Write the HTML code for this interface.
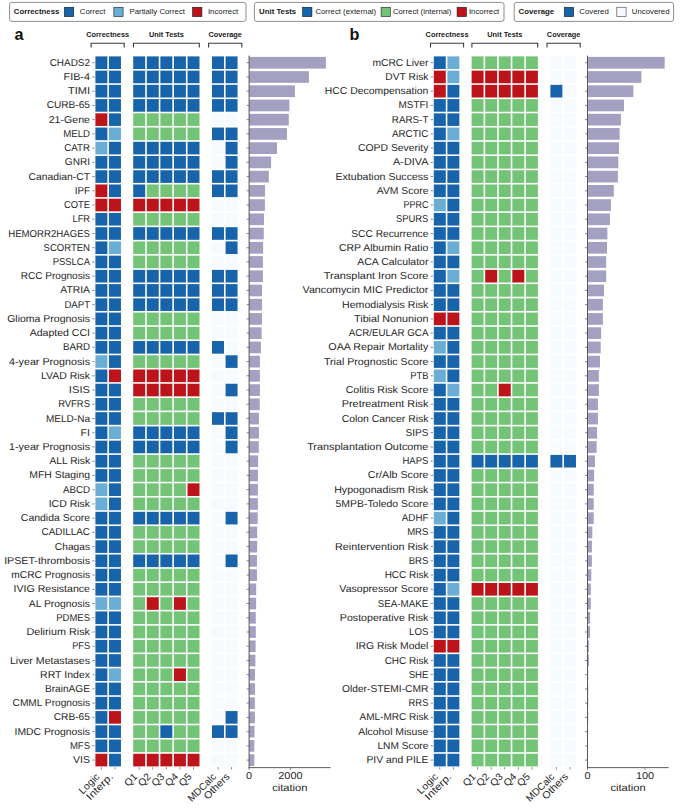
<!DOCTYPE html>
<html><head><meta charset="utf-8"><style>
html,body{margin:0;padding:0;background:#fff;}
body{width:685px;height:812px;overflow:hidden;}
svg{display:block;font-family:"Liberation Sans",sans-serif;}
.t{text-rendering:geometricPrecision;fill:#262626;}
</style></head><body>
<svg width="685" height="812" viewBox="0 0 685 812">
<rect width="685" height="812" fill="#fff"/>
<rect x="9.6" y="2.4" width="236.4" height="19" rx="2.4" fill="#fff" stroke="#7a7a7a" stroke-width="0.85"/>
<text x="13.8" y="13.9" font-size="7.8" font-weight="bold" fill="#1a1a1a">Correctness</text>
<rect x="64.4" y="7.3" width="9.3" height="9.3" fill="#1764ab" stroke="rgba(0,0,0,0.75)" stroke-width="0.7"/>
<text x="79.8" y="13.9" font-size="7.8" font-weight="normal" fill="#1a1a1a">Correct</text>
<rect x="113.8" y="7.3" width="9.3" height="9.3" fill="#6aaed6" stroke="rgba(0,0,0,0.75)" stroke-width="0.7"/>
<text x="129.5" y="13.9" font-size="7.8" font-weight="normal" fill="#1a1a1a">Partially Correct</text>
<rect x="192.6" y="7.3" width="9.3" height="9.3" fill="#bc141a" stroke="rgba(0,0,0,0.75)" stroke-width="0.7"/>
<text x="207.9" y="13.9" font-size="7.8" font-weight="normal" fill="#1a1a1a">Incorrect</text>
<rect x="254.4" y="2.4" width="249.6" height="19" rx="2.4" fill="#fff" stroke="#7a7a7a" stroke-width="0.85"/>
<text x="259.1" y="13.9" font-size="7.8" font-weight="bold" fill="#1a1a1a">Unit Tests</text>
<rect x="302.6" y="7.3" width="9.3" height="9.3" fill="#1764ab" stroke="rgba(0,0,0,0.75)" stroke-width="0.7"/>
<text x="315.4" y="13.9" font-size="7.8" font-weight="normal" fill="#1a1a1a">Correct (external)</text>
<rect x="381.1" y="7.3" width="9.3" height="9.3" fill="#73c476" stroke="rgba(0,0,0,0.75)" stroke-width="0.7"/>
<text x="392.9" y="13.9" font-size="7.8" font-weight="normal" fill="#1a1a1a">Correct (internal)</text>
<rect x="457.1" y="7.3" width="9.3" height="9.3" fill="#bc141a" stroke="rgba(0,0,0,0.75)" stroke-width="0.7"/>
<text x="468.9" y="13.9" font-size="7.8" font-weight="normal" fill="#1a1a1a">Incorrect</text>
<rect x="514.2" y="2.4" width="159.4" height="19" rx="2.4" fill="#fff" stroke="#7a7a7a" stroke-width="0.85"/>
<text x="518.6" y="13.9" font-size="7.8" font-weight="bold" fill="#1a1a1a">Coverage</text>
<rect x="564.3" y="7.3" width="9.3" height="9.3" fill="#1764ab" stroke="rgba(0,0,0,0.75)" stroke-width="0.7"/>
<text x="579.3" y="13.9" font-size="7.8" font-weight="normal" fill="#1a1a1a">Covered</text>
<rect x="616.8" y="7.3" width="9.3" height="9.3" fill="#f6f9fd" stroke="#5a5a5a" stroke-width="0.7"/>
<text x="631.8" y="13.9" font-size="7.8" font-weight="normal" fill="#1a1a1a">Uncovered</text>
<rect x="95.4" y="56.39" width="11.98" height="12.63" fill="#1764ab"/>
<rect x="108.98" y="56.39" width="11.98" height="12.63" fill="#1764ab"/>
<rect x="133.2" y="56.39" width="11.98" height="12.63" fill="#1764ab"/>
<rect x="146.78" y="56.39" width="11.98" height="12.63" fill="#1764ab"/>
<rect x="160.36" y="56.39" width="11.98" height="12.63" fill="#1764ab"/>
<rect x="173.94" y="56.39" width="11.98" height="12.63" fill="#1764ab"/>
<rect x="187.52" y="56.39" width="11.98" height="12.63" fill="#1764ab"/>
<rect x="212" y="56.39" width="11.98" height="12.63" fill="#1764ab"/>
<rect x="225.58" y="56.39" width="11.98" height="12.63" fill="#1764ab"/>
<text x="90" y="65.76" text-anchor="end" font-size="10" class="t" textLength="40.34" lengthAdjust="spacingAndGlyphs">CHADS2</text>
<line x1="92.3" y1="62.71" x2="94.6" y2="62.71" stroke="#6a6a6a" stroke-width="0.8"/>
<rect x="249.1" y="56.91" width="76.8" height="11.7" fill="#a3a0c2"/>
<line x1="246.6" y1="62.71" x2="249.1" y2="62.71" stroke="#6a6a6a" stroke-width="0.8"/>
<rect x="95.4" y="70.63" width="11.98" height="12.63" fill="#1764ab"/>
<rect x="108.98" y="70.63" width="11.98" height="12.63" fill="#1764ab"/>
<rect x="133.2" y="70.63" width="11.98" height="12.63" fill="#1764ab"/>
<rect x="146.78" y="70.63" width="11.98" height="12.63" fill="#1764ab"/>
<rect x="160.36" y="70.63" width="11.98" height="12.63" fill="#1764ab"/>
<rect x="173.94" y="70.63" width="11.98" height="12.63" fill="#1764ab"/>
<rect x="187.52" y="70.63" width="11.98" height="12.63" fill="#1764ab"/>
<rect x="212" y="70.63" width="11.98" height="12.63" fill="#1764ab"/>
<rect x="225.58" y="70.63" width="11.98" height="12.63" fill="#1764ab"/>
<text x="90" y="79.99" text-anchor="end" font-size="10" class="t" textLength="26.47" lengthAdjust="spacingAndGlyphs">FIB-4</text>
<line x1="92.3" y1="76.94" x2="94.6" y2="76.94" stroke="#6a6a6a" stroke-width="0.8"/>
<rect x="249.1" y="71.14" width="59.8" height="11.7" fill="#a3a0c2"/>
<line x1="246.6" y1="76.94" x2="249.1" y2="76.94" stroke="#6a6a6a" stroke-width="0.8"/>
<rect x="95.4" y="84.86" width="11.98" height="12.63" fill="#1764ab"/>
<rect x="108.98" y="84.86" width="11.98" height="12.63" fill="#1764ab"/>
<rect x="133.2" y="84.86" width="11.98" height="12.63" fill="#1764ab"/>
<rect x="146.78" y="84.86" width="11.98" height="12.63" fill="#1764ab"/>
<rect x="160.36" y="84.86" width="11.98" height="12.63" fill="#1764ab"/>
<rect x="173.94" y="84.86" width="11.98" height="12.63" fill="#1764ab"/>
<rect x="187.52" y="84.86" width="11.98" height="12.63" fill="#1764ab"/>
<rect x="212" y="84.86" width="11.98" height="12.63" fill="#1764ab"/>
<rect x="225.58" y="84.86" width="11.98" height="12.63" fill="#1764ab"/>
<text x="90" y="94.22" text-anchor="end" font-size="10" class="t" textLength="21.97" lengthAdjust="spacingAndGlyphs">TIMI</text>
<line x1="92.3" y1="91.17" x2="94.6" y2="91.17" stroke="#6a6a6a" stroke-width="0.8"/>
<rect x="249.1" y="85.37" width="45.8" height="11.7" fill="#a3a0c2"/>
<line x1="246.6" y1="91.17" x2="249.1" y2="91.17" stroke="#6a6a6a" stroke-width="0.8"/>
<rect x="95.4" y="99.09" width="11.98" height="12.63" fill="#1764ab"/>
<rect x="108.98" y="99.09" width="11.98" height="12.63" fill="#1764ab"/>
<rect x="133.2" y="99.09" width="11.98" height="12.63" fill="#1764ab"/>
<rect x="146.78" y="99.09" width="11.98" height="12.63" fill="#1764ab"/>
<rect x="160.36" y="99.09" width="11.98" height="12.63" fill="#1764ab"/>
<rect x="173.94" y="99.09" width="11.98" height="12.63" fill="#1764ab"/>
<rect x="187.52" y="99.09" width="11.98" height="12.63" fill="#1764ab"/>
<rect x="212" y="99.09" width="11.98" height="12.63" fill="#1764ab"/>
<rect x="225.58" y="99.09" width="11.98" height="12.63" fill="#1764ab"/>
<text x="90" y="108.46" text-anchor="end" font-size="10" class="t" textLength="43.32" lengthAdjust="spacingAndGlyphs">CURB-65</text>
<line x1="92.3" y1="105.41" x2="94.6" y2="105.41" stroke="#6a6a6a" stroke-width="0.8"/>
<rect x="249.1" y="99.61" width="40.3" height="11.7" fill="#a3a0c2"/>
<line x1="246.6" y1="105.41" x2="249.1" y2="105.41" stroke="#6a6a6a" stroke-width="0.8"/>
<rect x="95.4" y="113.32" width="11.98" height="12.63" fill="#bc141a"/>
<rect x="108.98" y="113.32" width="11.98" height="12.63" fill="#1764ab"/>
<rect x="133.2" y="113.32" width="11.98" height="12.63" fill="#73c476"/>
<rect x="146.78" y="113.32" width="11.98" height="12.63" fill="#73c476"/>
<rect x="160.36" y="113.32" width="11.98" height="12.63" fill="#73c476"/>
<rect x="173.94" y="113.32" width="11.98" height="12.63" fill="#73c476"/>
<rect x="187.52" y="113.32" width="11.98" height="12.63" fill="#73c476"/>
<rect x="212" y="113.32" width="11.98" height="12.63" fill="#f7fbff"/>
<rect x="225.58" y="113.32" width="11.98" height="12.63" fill="#f7fbff"/>
<text x="90" y="122.69" text-anchor="end" font-size="10" class="t" textLength="41.31" lengthAdjust="spacingAndGlyphs">21-Gene</text>
<line x1="92.3" y1="119.64" x2="94.6" y2="119.64" stroke="#6a6a6a" stroke-width="0.8"/>
<rect x="249.1" y="113.84" width="39.7" height="11.7" fill="#a3a0c2"/>
<line x1="246.6" y1="119.64" x2="249.1" y2="119.64" stroke="#6a6a6a" stroke-width="0.8"/>
<rect x="95.4" y="127.55" width="11.98" height="12.63" fill="#1764ab"/>
<rect x="108.98" y="127.55" width="11.98" height="12.63" fill="#6aaed6"/>
<rect x="133.2" y="127.55" width="11.98" height="12.63" fill="#73c476"/>
<rect x="146.78" y="127.55" width="11.98" height="12.63" fill="#73c476"/>
<rect x="160.36" y="127.55" width="11.98" height="12.63" fill="#73c476"/>
<rect x="173.94" y="127.55" width="11.98" height="12.63" fill="#73c476"/>
<rect x="187.52" y="127.55" width="11.98" height="12.63" fill="#73c476"/>
<rect x="212" y="127.55" width="11.98" height="12.63" fill="#1764ab"/>
<rect x="225.58" y="127.55" width="11.98" height="12.63" fill="#1764ab"/>
<text x="90" y="136.92" text-anchor="end" font-size="10" class="t" textLength="26.77" lengthAdjust="spacingAndGlyphs">MELD</text>
<line x1="92.3" y1="133.87" x2="94.6" y2="133.87" stroke="#6a6a6a" stroke-width="0.8"/>
<rect x="249.1" y="128.07" width="37.9" height="11.7" fill="#a3a0c2"/>
<line x1="246.6" y1="133.87" x2="249.1" y2="133.87" stroke="#6a6a6a" stroke-width="0.8"/>
<rect x="95.4" y="141.79" width="11.98" height="12.63" fill="#6aaed6"/>
<rect x="108.98" y="141.79" width="11.98" height="12.63" fill="#1764ab"/>
<rect x="133.2" y="141.79" width="11.98" height="12.63" fill="#1764ab"/>
<rect x="146.78" y="141.79" width="11.98" height="12.63" fill="#1764ab"/>
<rect x="160.36" y="141.79" width="11.98" height="12.63" fill="#1764ab"/>
<rect x="173.94" y="141.79" width="11.98" height="12.63" fill="#1764ab"/>
<rect x="187.52" y="141.79" width="11.98" height="12.63" fill="#1764ab"/>
<rect x="212" y="141.79" width="11.98" height="12.63" fill="#f7fbff"/>
<rect x="225.58" y="141.79" width="11.98" height="12.63" fill="#1764ab"/>
<text x="90" y="151.15" text-anchor="end" font-size="10" class="t" textLength="25.72" lengthAdjust="spacingAndGlyphs">CATR</text>
<line x1="92.3" y1="148.1" x2="94.6" y2="148.1" stroke="#6a6a6a" stroke-width="0.8"/>
<rect x="249.1" y="142.3" width="27.9" height="11.7" fill="#a3a0c2"/>
<line x1="246.6" y1="148.1" x2="249.1" y2="148.1" stroke="#6a6a6a" stroke-width="0.8"/>
<rect x="95.4" y="156.02" width="11.98" height="12.63" fill="#1764ab"/>
<rect x="108.98" y="156.02" width="11.98" height="12.63" fill="#1764ab"/>
<rect x="133.2" y="156.02" width="11.98" height="12.63" fill="#1764ab"/>
<rect x="146.78" y="156.02" width="11.98" height="12.63" fill="#1764ab"/>
<rect x="160.36" y="156.02" width="11.98" height="12.63" fill="#1764ab"/>
<rect x="173.94" y="156.02" width="11.98" height="12.63" fill="#1764ab"/>
<rect x="187.52" y="156.02" width="11.98" height="12.63" fill="#1764ab"/>
<rect x="212" y="156.02" width="11.98" height="12.63" fill="#f7fbff"/>
<rect x="225.58" y="156.02" width="11.98" height="12.63" fill="#1764ab"/>
<text x="90" y="165.38" text-anchor="end" font-size="10" class="t" textLength="25.2" lengthAdjust="spacingAndGlyphs">GNRI</text>
<line x1="92.3" y1="162.33" x2="94.6" y2="162.33" stroke="#6a6a6a" stroke-width="0.8"/>
<rect x="249.1" y="156.53" width="22" height="11.7" fill="#a3a0c2"/>
<line x1="246.6" y1="162.33" x2="249.1" y2="162.33" stroke="#6a6a6a" stroke-width="0.8"/>
<rect x="95.4" y="170.25" width="11.98" height="12.63" fill="#1764ab"/>
<rect x="108.98" y="170.25" width="11.98" height="12.63" fill="#1764ab"/>
<rect x="133.2" y="170.25" width="11.98" height="12.63" fill="#1764ab"/>
<rect x="146.78" y="170.25" width="11.98" height="12.63" fill="#1764ab"/>
<rect x="160.36" y="170.25" width="11.98" height="12.63" fill="#1764ab"/>
<rect x="173.94" y="170.25" width="11.98" height="12.63" fill="#1764ab"/>
<rect x="187.52" y="170.25" width="11.98" height="12.63" fill="#1764ab"/>
<rect x="212" y="170.25" width="11.98" height="12.63" fill="#1764ab"/>
<rect x="225.58" y="170.25" width="11.98" height="12.63" fill="#1764ab"/>
<text x="90" y="179.62" text-anchor="end" font-size="10" class="t" textLength="61.43" lengthAdjust="spacingAndGlyphs">Canadian-CT</text>
<line x1="92.3" y1="176.57" x2="94.6" y2="176.57" stroke="#6a6a6a" stroke-width="0.8"/>
<rect x="249.1" y="170.77" width="19.7" height="11.7" fill="#a3a0c2"/>
<line x1="246.6" y1="176.57" x2="249.1" y2="176.57" stroke="#6a6a6a" stroke-width="0.8"/>
<rect x="95.4" y="184.48" width="11.98" height="12.63" fill="#bc141a"/>
<rect x="108.98" y="184.48" width="11.98" height="12.63" fill="#1764ab"/>
<rect x="133.2" y="184.48" width="11.98" height="12.63" fill="#1764ab"/>
<rect x="146.78" y="184.48" width="11.98" height="12.63" fill="#73c476"/>
<rect x="160.36" y="184.48" width="11.98" height="12.63" fill="#73c476"/>
<rect x="173.94" y="184.48" width="11.98" height="12.63" fill="#73c476"/>
<rect x="187.52" y="184.48" width="11.98" height="12.63" fill="#73c476"/>
<rect x="212" y="184.48" width="11.98" height="12.63" fill="#1764ab"/>
<rect x="225.58" y="184.48" width="11.98" height="12.63" fill="#1764ab"/>
<text x="90" y="193.85" text-anchor="end" font-size="10" class="t" textLength="15.27" lengthAdjust="spacingAndGlyphs">IPF</text>
<line x1="92.3" y1="190.8" x2="94.6" y2="190.8" stroke="#6a6a6a" stroke-width="0.8"/>
<rect x="249.1" y="185" width="15.9" height="11.7" fill="#a3a0c2"/>
<line x1="246.6" y1="190.8" x2="249.1" y2="190.8" stroke="#6a6a6a" stroke-width="0.8"/>
<rect x="95.4" y="198.71" width="11.98" height="12.63" fill="#bc141a"/>
<rect x="108.98" y="198.71" width="11.98" height="12.63" fill="#bc141a"/>
<rect x="133.2" y="198.71" width="11.98" height="12.63" fill="#bc141a"/>
<rect x="146.78" y="198.71" width="11.98" height="12.63" fill="#bc141a"/>
<rect x="160.36" y="198.71" width="11.98" height="12.63" fill="#bc141a"/>
<rect x="173.94" y="198.71" width="11.98" height="12.63" fill="#bc141a"/>
<rect x="187.52" y="198.71" width="11.98" height="12.63" fill="#bc141a"/>
<rect x="212" y="198.71" width="11.98" height="12.63" fill="#f7fbff"/>
<rect x="225.58" y="198.71" width="11.98" height="12.63" fill="#f7fbff"/>
<text x="90" y="208.08" text-anchor="end" font-size="10" class="t" textLength="26.1" lengthAdjust="spacingAndGlyphs">COTE</text>
<line x1="92.3" y1="205.03" x2="94.6" y2="205.03" stroke="#6a6a6a" stroke-width="0.8"/>
<rect x="249.1" y="199.23" width="15.8" height="11.7" fill="#a3a0c2"/>
<line x1="246.6" y1="205.03" x2="249.1" y2="205.03" stroke="#6a6a6a" stroke-width="0.8"/>
<rect x="95.4" y="212.95" width="11.98" height="12.63" fill="#1764ab"/>
<rect x="108.98" y="212.95" width="11.98" height="12.63" fill="#1764ab"/>
<rect x="133.2" y="212.95" width="11.98" height="12.63" fill="#73c476"/>
<rect x="146.78" y="212.95" width="11.98" height="12.63" fill="#73c476"/>
<rect x="160.36" y="212.95" width="11.98" height="12.63" fill="#73c476"/>
<rect x="173.94" y="212.95" width="11.98" height="12.63" fill="#73c476"/>
<rect x="187.52" y="212.95" width="11.98" height="12.63" fill="#73c476"/>
<rect x="212" y="212.95" width="11.98" height="12.63" fill="#f7fbff"/>
<rect x="225.58" y="212.95" width="11.98" height="12.63" fill="#f7fbff"/>
<text x="90" y="222.31" text-anchor="end" font-size="10" class="t" textLength="17.45" lengthAdjust="spacingAndGlyphs">LFR</text>
<line x1="92.3" y1="219.26" x2="94.6" y2="219.26" stroke="#6a6a6a" stroke-width="0.8"/>
<rect x="249.1" y="213.46" width="14.9" height="11.7" fill="#a3a0c2"/>
<line x1="246.6" y1="219.26" x2="249.1" y2="219.26" stroke="#6a6a6a" stroke-width="0.8"/>
<rect x="95.4" y="227.18" width="11.98" height="12.63" fill="#1764ab"/>
<rect x="108.98" y="227.18" width="11.98" height="12.63" fill="#1764ab"/>
<rect x="133.2" y="227.18" width="11.98" height="12.63" fill="#1764ab"/>
<rect x="146.78" y="227.18" width="11.98" height="12.63" fill="#1764ab"/>
<rect x="160.36" y="227.18" width="11.98" height="12.63" fill="#1764ab"/>
<rect x="173.94" y="227.18" width="11.98" height="12.63" fill="#1764ab"/>
<rect x="187.52" y="227.18" width="11.98" height="12.63" fill="#1764ab"/>
<rect x="212" y="227.18" width="11.98" height="12.63" fill="#1764ab"/>
<rect x="225.58" y="227.18" width="11.98" height="12.63" fill="#1764ab"/>
<text x="90" y="236.54" text-anchor="end" font-size="10" class="t" textLength="81.79" lengthAdjust="spacingAndGlyphs">HEMORR2HAGES</text>
<line x1="92.3" y1="233.49" x2="94.6" y2="233.49" stroke="#6a6a6a" stroke-width="0.8"/>
<rect x="249.1" y="227.69" width="14.7" height="11.7" fill="#a3a0c2"/>
<line x1="246.6" y1="233.49" x2="249.1" y2="233.49" stroke="#6a6a6a" stroke-width="0.8"/>
<rect x="95.4" y="241.41" width="11.98" height="12.63" fill="#1764ab"/>
<rect x="108.98" y="241.41" width="11.98" height="12.63" fill="#6aaed6"/>
<rect x="133.2" y="241.41" width="11.98" height="12.63" fill="#73c476"/>
<rect x="146.78" y="241.41" width="11.98" height="12.63" fill="#73c476"/>
<rect x="160.36" y="241.41" width="11.98" height="12.63" fill="#73c476"/>
<rect x="173.94" y="241.41" width="11.98" height="12.63" fill="#73c476"/>
<rect x="187.52" y="241.41" width="11.98" height="12.63" fill="#73c476"/>
<rect x="212" y="241.41" width="11.98" height="12.63" fill="#f7fbff"/>
<rect x="225.58" y="241.41" width="11.98" height="12.63" fill="#1764ab"/>
<text x="90" y="250.78" text-anchor="end" font-size="10" class="t" textLength="46.42" lengthAdjust="spacingAndGlyphs">SCORTEN</text>
<line x1="92.3" y1="247.73" x2="94.6" y2="247.73" stroke="#6a6a6a" stroke-width="0.8"/>
<rect x="249.1" y="241.93" width="14" height="11.7" fill="#a3a0c2"/>
<line x1="246.6" y1="247.73" x2="249.1" y2="247.73" stroke="#6a6a6a" stroke-width="0.8"/>
<rect x="95.4" y="255.64" width="11.98" height="12.63" fill="#1764ab"/>
<rect x="108.98" y="255.64" width="11.98" height="12.63" fill="#1764ab"/>
<rect x="133.2" y="255.64" width="11.98" height="12.63" fill="#73c476"/>
<rect x="146.78" y="255.64" width="11.98" height="12.63" fill="#73c476"/>
<rect x="160.36" y="255.64" width="11.98" height="12.63" fill="#73c476"/>
<rect x="173.94" y="255.64" width="11.98" height="12.63" fill="#73c476"/>
<rect x="187.52" y="255.64" width="11.98" height="12.63" fill="#73c476"/>
<rect x="212" y="255.64" width="11.98" height="12.63" fill="#f7fbff"/>
<rect x="225.58" y="255.64" width="11.98" height="12.63" fill="#f7fbff"/>
<text x="90" y="265.01" text-anchor="end" font-size="10" class="t" textLength="37.35" lengthAdjust="spacingAndGlyphs">PSSLCA</text>
<line x1="92.3" y1="261.96" x2="94.6" y2="261.96" stroke="#6a6a6a" stroke-width="0.8"/>
<rect x="249.1" y="256.16" width="13.8" height="11.7" fill="#a3a0c2"/>
<line x1="246.6" y1="261.96" x2="249.1" y2="261.96" stroke="#6a6a6a" stroke-width="0.8"/>
<rect x="95.4" y="269.87" width="11.98" height="12.63" fill="#1764ab"/>
<rect x="108.98" y="269.87" width="11.98" height="12.63" fill="#1764ab"/>
<rect x="133.2" y="269.87" width="11.98" height="12.63" fill="#1764ab"/>
<rect x="146.78" y="269.87" width="11.98" height="12.63" fill="#1764ab"/>
<rect x="160.36" y="269.87" width="11.98" height="12.63" fill="#1764ab"/>
<rect x="173.94" y="269.87" width="11.98" height="12.63" fill="#1764ab"/>
<rect x="187.52" y="269.87" width="11.98" height="12.63" fill="#1764ab"/>
<rect x="212" y="269.87" width="11.98" height="12.63" fill="#1764ab"/>
<rect x="225.58" y="269.87" width="11.98" height="12.63" fill="#1764ab"/>
<text x="90" y="279.24" text-anchor="end" font-size="10" class="t" textLength="69.32" lengthAdjust="spacingAndGlyphs">RCC Prognosis</text>
<line x1="92.3" y1="276.19" x2="94.6" y2="276.19" stroke="#6a6a6a" stroke-width="0.8"/>
<rect x="249.1" y="270.39" width="13.8" height="11.7" fill="#a3a0c2"/>
<line x1="246.6" y1="276.19" x2="249.1" y2="276.19" stroke="#6a6a6a" stroke-width="0.8"/>
<rect x="95.4" y="284.11" width="11.98" height="12.63" fill="#1764ab"/>
<rect x="108.98" y="284.11" width="11.98" height="12.63" fill="#1764ab"/>
<rect x="133.2" y="284.11" width="11.98" height="12.63" fill="#1764ab"/>
<rect x="146.78" y="284.11" width="11.98" height="12.63" fill="#1764ab"/>
<rect x="160.36" y="284.11" width="11.98" height="12.63" fill="#1764ab"/>
<rect x="173.94" y="284.11" width="11.98" height="12.63" fill="#1764ab"/>
<rect x="187.52" y="284.11" width="11.98" height="12.63" fill="#1764ab"/>
<rect x="212" y="284.11" width="11.98" height="12.63" fill="#1764ab"/>
<rect x="225.58" y="284.11" width="11.98" height="12.63" fill="#1764ab"/>
<text x="90" y="293.47" text-anchor="end" font-size="10" class="t" textLength="29.61" lengthAdjust="spacingAndGlyphs">ATRIA</text>
<line x1="92.3" y1="290.42" x2="94.6" y2="290.42" stroke="#6a6a6a" stroke-width="0.8"/>
<rect x="249.1" y="284.62" width="12.9" height="11.7" fill="#a3a0c2"/>
<line x1="246.6" y1="290.42" x2="249.1" y2="290.42" stroke="#6a6a6a" stroke-width="0.8"/>
<rect x="95.4" y="298.34" width="11.98" height="12.63" fill="#1764ab"/>
<rect x="108.98" y="298.34" width="11.98" height="12.63" fill="#1764ab"/>
<rect x="133.2" y="298.34" width="11.98" height="12.63" fill="#1764ab"/>
<rect x="146.78" y="298.34" width="11.98" height="12.63" fill="#1764ab"/>
<rect x="160.36" y="298.34" width="11.98" height="12.63" fill="#1764ab"/>
<rect x="173.94" y="298.34" width="11.98" height="12.63" fill="#1764ab"/>
<rect x="187.52" y="298.34" width="11.98" height="12.63" fill="#1764ab"/>
<rect x="212" y="298.34" width="11.98" height="12.63" fill="#1764ab"/>
<rect x="225.58" y="298.34" width="11.98" height="12.63" fill="#1764ab"/>
<text x="90" y="307.7" text-anchor="end" font-size="10" class="t" textLength="25.54" lengthAdjust="spacingAndGlyphs">DAPT</text>
<line x1="92.3" y1="304.65" x2="94.6" y2="304.65" stroke="#6a6a6a" stroke-width="0.8"/>
<rect x="249.1" y="298.85" width="12.9" height="11.7" fill="#a3a0c2"/>
<line x1="246.6" y1="304.65" x2="249.1" y2="304.65" stroke="#6a6a6a" stroke-width="0.8"/>
<rect x="95.4" y="312.57" width="11.98" height="12.63" fill="#1764ab"/>
<rect x="108.98" y="312.57" width="11.98" height="12.63" fill="#1764ab"/>
<rect x="133.2" y="312.57" width="11.98" height="12.63" fill="#73c476"/>
<rect x="146.78" y="312.57" width="11.98" height="12.63" fill="#73c476"/>
<rect x="160.36" y="312.57" width="11.98" height="12.63" fill="#73c476"/>
<rect x="173.94" y="312.57" width="11.98" height="12.63" fill="#73c476"/>
<rect x="187.52" y="312.57" width="11.98" height="12.63" fill="#73c476"/>
<rect x="212" y="312.57" width="11.98" height="12.63" fill="#f7fbff"/>
<rect x="225.58" y="312.57" width="11.98" height="12.63" fill="#f7fbff"/>
<text x="90" y="321.94" text-anchor="end" font-size="10" class="t" textLength="82.81" lengthAdjust="spacingAndGlyphs">Glioma Prognosis</text>
<line x1="92.3" y1="318.89" x2="94.6" y2="318.89" stroke="#6a6a6a" stroke-width="0.8"/>
<rect x="249.1" y="313.09" width="12.9" height="11.7" fill="#a3a0c2"/>
<line x1="246.6" y1="318.89" x2="249.1" y2="318.89" stroke="#6a6a6a" stroke-width="0.8"/>
<rect x="95.4" y="326.8" width="11.98" height="12.63" fill="#1764ab"/>
<rect x="108.98" y="326.8" width="11.98" height="12.63" fill="#1764ab"/>
<rect x="133.2" y="326.8" width="11.98" height="12.63" fill="#73c476"/>
<rect x="146.78" y="326.8" width="11.98" height="12.63" fill="#73c476"/>
<rect x="160.36" y="326.8" width="11.98" height="12.63" fill="#73c476"/>
<rect x="173.94" y="326.8" width="11.98" height="12.63" fill="#73c476"/>
<rect x="187.52" y="326.8" width="11.98" height="12.63" fill="#73c476"/>
<rect x="212" y="326.8" width="11.98" height="12.63" fill="#f7fbff"/>
<rect x="225.58" y="326.8" width="11.98" height="12.63" fill="#f7fbff"/>
<text x="90" y="336.17" text-anchor="end" font-size="10" class="t" textLength="60.29" lengthAdjust="spacingAndGlyphs">Adapted CCI</text>
<line x1="92.3" y1="333.12" x2="94.6" y2="333.12" stroke="#6a6a6a" stroke-width="0.8"/>
<rect x="249.1" y="327.32" width="12.5" height="11.7" fill="#a3a0c2"/>
<line x1="246.6" y1="333.12" x2="249.1" y2="333.12" stroke="#6a6a6a" stroke-width="0.8"/>
<rect x="95.4" y="341.03" width="11.98" height="12.63" fill="#1764ab"/>
<rect x="108.98" y="341.03" width="11.98" height="12.63" fill="#1764ab"/>
<rect x="133.2" y="341.03" width="11.98" height="12.63" fill="#1764ab"/>
<rect x="146.78" y="341.03" width="11.98" height="12.63" fill="#1764ab"/>
<rect x="160.36" y="341.03" width="11.98" height="12.63" fill="#1764ab"/>
<rect x="173.94" y="341.03" width="11.98" height="12.63" fill="#1764ab"/>
<rect x="187.52" y="341.03" width="11.98" height="12.63" fill="#1764ab"/>
<rect x="212" y="341.03" width="11.98" height="12.63" fill="#1764ab"/>
<rect x="225.58" y="341.03" width="11.98" height="12.63" fill="#f7fbff"/>
<text x="90" y="350.4" text-anchor="end" font-size="10" class="t" textLength="27.08" lengthAdjust="spacingAndGlyphs">BARD</text>
<line x1="92.3" y1="347.35" x2="94.6" y2="347.35" stroke="#6a6a6a" stroke-width="0.8"/>
<rect x="249.1" y="341.55" width="11.8" height="11.7" fill="#a3a0c2"/>
<line x1="246.6" y1="347.35" x2="249.1" y2="347.35" stroke="#6a6a6a" stroke-width="0.8"/>
<rect x="95.4" y="355.27" width="11.98" height="12.63" fill="#6aaed6"/>
<rect x="108.98" y="355.27" width="11.98" height="12.63" fill="#1764ab"/>
<rect x="133.2" y="355.27" width="11.98" height="12.63" fill="#73c476"/>
<rect x="146.78" y="355.27" width="11.98" height="12.63" fill="#73c476"/>
<rect x="160.36" y="355.27" width="11.98" height="12.63" fill="#73c476"/>
<rect x="173.94" y="355.27" width="11.98" height="12.63" fill="#73c476"/>
<rect x="187.52" y="355.27" width="11.98" height="12.63" fill="#73c476"/>
<rect x="212" y="355.27" width="11.98" height="12.63" fill="#f7fbff"/>
<rect x="225.58" y="355.27" width="11.98" height="12.63" fill="#1764ab"/>
<text x="90" y="364.63" text-anchor="end" font-size="10" class="t" textLength="80.91" lengthAdjust="spacingAndGlyphs">4-year Prognosis</text>
<line x1="92.3" y1="361.58" x2="94.6" y2="361.58" stroke="#6a6a6a" stroke-width="0.8"/>
<rect x="249.1" y="355.78" width="10.8" height="11.7" fill="#a3a0c2"/>
<line x1="246.6" y1="361.58" x2="249.1" y2="361.58" stroke="#6a6a6a" stroke-width="0.8"/>
<rect x="95.4" y="369.5" width="11.98" height="12.63" fill="#1764ab"/>
<rect x="108.98" y="369.5" width="11.98" height="12.63" fill="#bc141a"/>
<rect x="133.2" y="369.5" width="11.98" height="12.63" fill="#bc141a"/>
<rect x="146.78" y="369.5" width="11.98" height="12.63" fill="#bc141a"/>
<rect x="160.36" y="369.5" width="11.98" height="12.63" fill="#bc141a"/>
<rect x="173.94" y="369.5" width="11.98" height="12.63" fill="#bc141a"/>
<rect x="187.52" y="369.5" width="11.98" height="12.63" fill="#bc141a"/>
<rect x="212" y="369.5" width="11.98" height="12.63" fill="#f7fbff"/>
<rect x="225.58" y="369.5" width="11.98" height="12.63" fill="#f7fbff"/>
<text x="90" y="378.86" text-anchor="end" font-size="10" class="t" textLength="48.99" lengthAdjust="spacingAndGlyphs">LVAD Risk</text>
<line x1="92.3" y1="375.81" x2="94.6" y2="375.81" stroke="#6a6a6a" stroke-width="0.8"/>
<rect x="249.1" y="370.01" width="10.8" height="11.7" fill="#a3a0c2"/>
<line x1="246.6" y1="375.81" x2="249.1" y2="375.81" stroke="#6a6a6a" stroke-width="0.8"/>
<rect x="95.4" y="383.73" width="11.98" height="12.63" fill="#1764ab"/>
<rect x="108.98" y="383.73" width="11.98" height="12.63" fill="#1764ab"/>
<rect x="133.2" y="383.73" width="11.98" height="12.63" fill="#bc141a"/>
<rect x="146.78" y="383.73" width="11.98" height="12.63" fill="#bc141a"/>
<rect x="160.36" y="383.73" width="11.98" height="12.63" fill="#bc141a"/>
<rect x="173.94" y="383.73" width="11.98" height="12.63" fill="#bc141a"/>
<rect x="187.52" y="383.73" width="11.98" height="12.63" fill="#bc141a"/>
<rect x="212" y="383.73" width="11.98" height="12.63" fill="#f7fbff"/>
<rect x="225.58" y="383.73" width="11.98" height="12.63" fill="#1764ab"/>
<text x="90" y="393.1" text-anchor="end" font-size="10" class="t" textLength="21.11" lengthAdjust="spacingAndGlyphs">ISIS</text>
<line x1="92.3" y1="390.05" x2="94.6" y2="390.05" stroke="#6a6a6a" stroke-width="0.8"/>
<rect x="249.1" y="384.25" width="10.8" height="11.7" fill="#a3a0c2"/>
<line x1="246.6" y1="390.05" x2="249.1" y2="390.05" stroke="#6a6a6a" stroke-width="0.8"/>
<rect x="95.4" y="397.96" width="11.98" height="12.63" fill="#1764ab"/>
<rect x="108.98" y="397.96" width="11.98" height="12.63" fill="#1764ab"/>
<rect x="133.2" y="397.96" width="11.98" height="12.63" fill="#73c476"/>
<rect x="146.78" y="397.96" width="11.98" height="12.63" fill="#73c476"/>
<rect x="160.36" y="397.96" width="11.98" height="12.63" fill="#73c476"/>
<rect x="173.94" y="397.96" width="11.98" height="12.63" fill="#73c476"/>
<rect x="187.52" y="397.96" width="11.98" height="12.63" fill="#73c476"/>
<rect x="212" y="397.96" width="11.98" height="12.63" fill="#f7fbff"/>
<rect x="225.58" y="397.96" width="11.98" height="12.63" fill="#f7fbff"/>
<text x="90" y="407.33" text-anchor="end" font-size="10" class="t" textLength="31.83" lengthAdjust="spacingAndGlyphs">RVFRS</text>
<line x1="92.3" y1="404.28" x2="94.6" y2="404.28" stroke="#6a6a6a" stroke-width="0.8"/>
<rect x="249.1" y="398.48" width="10.6" height="11.7" fill="#a3a0c2"/>
<line x1="246.6" y1="404.28" x2="249.1" y2="404.28" stroke="#6a6a6a" stroke-width="0.8"/>
<rect x="95.4" y="412.19" width="11.98" height="12.63" fill="#1764ab"/>
<rect x="108.98" y="412.19" width="11.98" height="12.63" fill="#1764ab"/>
<rect x="133.2" y="412.19" width="11.98" height="12.63" fill="#73c476"/>
<rect x="146.78" y="412.19" width="11.98" height="12.63" fill="#73c476"/>
<rect x="160.36" y="412.19" width="11.98" height="12.63" fill="#73c476"/>
<rect x="173.94" y="412.19" width="11.98" height="12.63" fill="#73c476"/>
<rect x="187.52" y="412.19" width="11.98" height="12.63" fill="#73c476"/>
<rect x="212" y="412.19" width="11.98" height="12.63" fill="#1764ab"/>
<rect x="225.58" y="412.19" width="11.98" height="12.63" fill="#1764ab"/>
<text x="90" y="421.56" text-anchor="end" font-size="10" class="t" textLength="43.99" lengthAdjust="spacingAndGlyphs">MELD-Na</text>
<line x1="92.3" y1="418.51" x2="94.6" y2="418.51" stroke="#6a6a6a" stroke-width="0.8"/>
<rect x="249.1" y="412.71" width="9.9" height="11.7" fill="#a3a0c2"/>
<line x1="246.6" y1="418.51" x2="249.1" y2="418.51" stroke="#6a6a6a" stroke-width="0.8"/>
<rect x="95.4" y="426.43" width="11.98" height="12.63" fill="#1764ab"/>
<rect x="108.98" y="426.43" width="11.98" height="12.63" fill="#6aaed6"/>
<rect x="133.2" y="426.43" width="11.98" height="12.63" fill="#1764ab"/>
<rect x="146.78" y="426.43" width="11.98" height="12.63" fill="#1764ab"/>
<rect x="160.36" y="426.43" width="11.98" height="12.63" fill="#1764ab"/>
<rect x="173.94" y="426.43" width="11.98" height="12.63" fill="#1764ab"/>
<rect x="187.52" y="426.43" width="11.98" height="12.63" fill="#1764ab"/>
<rect x="212" y="426.43" width="11.98" height="12.63" fill="#f7fbff"/>
<rect x="225.58" y="426.43" width="11.98" height="12.63" fill="#1764ab"/>
<text x="90" y="435.79" text-anchor="end" font-size="10" class="t" textLength="9.51" lengthAdjust="spacingAndGlyphs">FI</text>
<line x1="92.3" y1="432.74" x2="94.6" y2="432.74" stroke="#6a6a6a" stroke-width="0.8"/>
<rect x="249.1" y="426.94" width="9.9" height="11.7" fill="#a3a0c2"/>
<line x1="246.6" y1="432.74" x2="249.1" y2="432.74" stroke="#6a6a6a" stroke-width="0.8"/>
<rect x="95.4" y="440.66" width="11.98" height="12.63" fill="#1764ab"/>
<rect x="108.98" y="440.66" width="11.98" height="12.63" fill="#1764ab"/>
<rect x="133.2" y="440.66" width="11.98" height="12.63" fill="#1764ab"/>
<rect x="146.78" y="440.66" width="11.98" height="12.63" fill="#1764ab"/>
<rect x="160.36" y="440.66" width="11.98" height="12.63" fill="#1764ab"/>
<rect x="173.94" y="440.66" width="11.98" height="12.63" fill="#1764ab"/>
<rect x="187.52" y="440.66" width="11.98" height="12.63" fill="#1764ab"/>
<rect x="212" y="440.66" width="11.98" height="12.63" fill="#f7fbff"/>
<rect x="225.58" y="440.66" width="11.98" height="12.63" fill="#1764ab"/>
<text x="90" y="450.02" text-anchor="end" font-size="10" class="t" textLength="80.91" lengthAdjust="spacingAndGlyphs">1-year Prognosis</text>
<line x1="92.3" y1="446.97" x2="94.6" y2="446.97" stroke="#6a6a6a" stroke-width="0.8"/>
<rect x="249.1" y="441.17" width="9.7" height="11.7" fill="#a3a0c2"/>
<line x1="246.6" y1="446.97" x2="249.1" y2="446.97" stroke="#6a6a6a" stroke-width="0.8"/>
<rect x="95.4" y="454.89" width="11.98" height="12.63" fill="#1764ab"/>
<rect x="108.98" y="454.89" width="11.98" height="12.63" fill="#1764ab"/>
<rect x="133.2" y="454.89" width="11.98" height="12.63" fill="#73c476"/>
<rect x="146.78" y="454.89" width="11.98" height="12.63" fill="#73c476"/>
<rect x="160.36" y="454.89" width="11.98" height="12.63" fill="#73c476"/>
<rect x="173.94" y="454.89" width="11.98" height="12.63" fill="#73c476"/>
<rect x="187.52" y="454.89" width="11.98" height="12.63" fill="#73c476"/>
<rect x="212" y="454.89" width="11.98" height="12.63" fill="#f7fbff"/>
<rect x="225.58" y="454.89" width="11.98" height="12.63" fill="#f7fbff"/>
<text x="90" y="464.26" text-anchor="end" font-size="10" class="t" textLength="40.41" lengthAdjust="spacingAndGlyphs">ALL Risk</text>
<line x1="92.3" y1="461.21" x2="94.6" y2="461.21" stroke="#6a6a6a" stroke-width="0.8"/>
<rect x="249.1" y="455.41" width="9" height="11.7" fill="#a3a0c2"/>
<line x1="246.6" y1="461.21" x2="249.1" y2="461.21" stroke="#6a6a6a" stroke-width="0.8"/>
<rect x="95.4" y="469.12" width="11.98" height="12.63" fill="#1764ab"/>
<rect x="108.98" y="469.12" width="11.98" height="12.63" fill="#1764ab"/>
<rect x="133.2" y="469.12" width="11.98" height="12.63" fill="#73c476"/>
<rect x="146.78" y="469.12" width="11.98" height="12.63" fill="#73c476"/>
<rect x="160.36" y="469.12" width="11.98" height="12.63" fill="#73c476"/>
<rect x="173.94" y="469.12" width="11.98" height="12.63" fill="#73c476"/>
<rect x="187.52" y="469.12" width="11.98" height="12.63" fill="#73c476"/>
<rect x="212" y="469.12" width="11.98" height="12.63" fill="#f7fbff"/>
<rect x="225.58" y="469.12" width="11.98" height="12.63" fill="#f7fbff"/>
<text x="90" y="478.49" text-anchor="end" font-size="10" class="t" textLength="60.67" lengthAdjust="spacingAndGlyphs">MFH Staging</text>
<line x1="92.3" y1="475.44" x2="94.6" y2="475.44" stroke="#6a6a6a" stroke-width="0.8"/>
<rect x="249.1" y="469.64" width="8.8" height="11.7" fill="#a3a0c2"/>
<line x1="246.6" y1="475.44" x2="249.1" y2="475.44" stroke="#6a6a6a" stroke-width="0.8"/>
<rect x="95.4" y="483.35" width="11.98" height="12.63" fill="#6aaed6"/>
<rect x="108.98" y="483.35" width="11.98" height="12.63" fill="#1764ab"/>
<rect x="133.2" y="483.35" width="11.98" height="12.63" fill="#73c476"/>
<rect x="146.78" y="483.35" width="11.98" height="12.63" fill="#73c476"/>
<rect x="160.36" y="483.35" width="11.98" height="12.63" fill="#73c476"/>
<rect x="173.94" y="483.35" width="11.98" height="12.63" fill="#73c476"/>
<rect x="187.52" y="483.35" width="11.98" height="12.63" fill="#bc141a"/>
<rect x="212" y="483.35" width="11.98" height="12.63" fill="#f7fbff"/>
<rect x="225.58" y="483.35" width="11.98" height="12.63" fill="#f7fbff"/>
<text x="90" y="492.72" text-anchor="end" font-size="10" class="t" textLength="27.12" lengthAdjust="spacingAndGlyphs">ABCD</text>
<line x1="92.3" y1="489.67" x2="94.6" y2="489.67" stroke="#6a6a6a" stroke-width="0.8"/>
<rect x="249.1" y="483.87" width="8.8" height="11.7" fill="#a3a0c2"/>
<line x1="246.6" y1="489.67" x2="249.1" y2="489.67" stroke="#6a6a6a" stroke-width="0.8"/>
<rect x="95.4" y="497.59" width="11.98" height="12.63" fill="#6aaed6"/>
<rect x="108.98" y="497.59" width="11.98" height="12.63" fill="#1764ab"/>
<rect x="133.2" y="497.59" width="11.98" height="12.63" fill="#73c476"/>
<rect x="146.78" y="497.59" width="11.98" height="12.63" fill="#73c476"/>
<rect x="160.36" y="497.59" width="11.98" height="12.63" fill="#73c476"/>
<rect x="173.94" y="497.59" width="11.98" height="12.63" fill="#73c476"/>
<rect x="187.52" y="497.59" width="11.98" height="12.63" fill="#73c476"/>
<rect x="212" y="497.59" width="11.98" height="12.63" fill="#f7fbff"/>
<rect x="225.58" y="497.59" width="11.98" height="12.63" fill="#f7fbff"/>
<text x="90" y="506.95" text-anchor="end" font-size="10" class="t" textLength="41.29" lengthAdjust="spacingAndGlyphs">ICD Risk</text>
<line x1="92.3" y1="503.9" x2="94.6" y2="503.9" stroke="#6a6a6a" stroke-width="0.8"/>
<rect x="249.1" y="498.1" width="8.8" height="11.7" fill="#a3a0c2"/>
<line x1="246.6" y1="503.9" x2="249.1" y2="503.9" stroke="#6a6a6a" stroke-width="0.8"/>
<rect x="95.4" y="511.82" width="11.98" height="12.63" fill="#1764ab"/>
<rect x="108.98" y="511.82" width="11.98" height="12.63" fill="#1764ab"/>
<rect x="133.2" y="511.82" width="11.98" height="12.63" fill="#1764ab"/>
<rect x="146.78" y="511.82" width="11.98" height="12.63" fill="#1764ab"/>
<rect x="160.36" y="511.82" width="11.98" height="12.63" fill="#1764ab"/>
<rect x="173.94" y="511.82" width="11.98" height="12.63" fill="#1764ab"/>
<rect x="187.52" y="511.82" width="11.98" height="12.63" fill="#1764ab"/>
<rect x="212" y="511.82" width="11.98" height="12.63" fill="#f7fbff"/>
<rect x="225.58" y="511.82" width="11.98" height="12.63" fill="#1764ab"/>
<text x="90" y="521.18" text-anchor="end" font-size="10" class="t" textLength="69.14" lengthAdjust="spacingAndGlyphs">Candida Score</text>
<line x1="92.3" y1="518.13" x2="94.6" y2="518.13" stroke="#6a6a6a" stroke-width="0.8"/>
<rect x="249.1" y="512.33" width="8.6" height="11.7" fill="#a3a0c2"/>
<line x1="246.6" y1="518.13" x2="249.1" y2="518.13" stroke="#6a6a6a" stroke-width="0.8"/>
<rect x="95.4" y="526.05" width="11.98" height="12.63" fill="#1764ab"/>
<rect x="108.98" y="526.05" width="11.98" height="12.63" fill="#1764ab"/>
<rect x="133.2" y="526.05" width="11.98" height="12.63" fill="#73c476"/>
<rect x="146.78" y="526.05" width="11.98" height="12.63" fill="#73c476"/>
<rect x="160.36" y="526.05" width="11.98" height="12.63" fill="#73c476"/>
<rect x="173.94" y="526.05" width="11.98" height="12.63" fill="#73c476"/>
<rect x="187.52" y="526.05" width="11.98" height="12.63" fill="#73c476"/>
<rect x="212" y="526.05" width="11.98" height="12.63" fill="#f7fbff"/>
<rect x="225.58" y="526.05" width="11.98" height="12.63" fill="#f7fbff"/>
<text x="90" y="535.42" text-anchor="end" font-size="10" class="t" textLength="48.43" lengthAdjust="spacingAndGlyphs">CADILLAC</text>
<line x1="92.3" y1="532.37" x2="94.6" y2="532.37" stroke="#6a6a6a" stroke-width="0.8"/>
<rect x="249.1" y="526.57" width="8.1" height="11.7" fill="#a3a0c2"/>
<line x1="246.6" y1="532.37" x2="249.1" y2="532.37" stroke="#6a6a6a" stroke-width="0.8"/>
<rect x="95.4" y="540.28" width="11.98" height="12.63" fill="#1764ab"/>
<rect x="108.98" y="540.28" width="11.98" height="12.63" fill="#1764ab"/>
<rect x="133.2" y="540.28" width="11.98" height="12.63" fill="#73c476"/>
<rect x="146.78" y="540.28" width="11.98" height="12.63" fill="#73c476"/>
<rect x="160.36" y="540.28" width="11.98" height="12.63" fill="#73c476"/>
<rect x="173.94" y="540.28" width="11.98" height="12.63" fill="#73c476"/>
<rect x="187.52" y="540.28" width="11.98" height="12.63" fill="#73c476"/>
<rect x="212" y="540.28" width="11.98" height="12.63" fill="#f7fbff"/>
<rect x="225.58" y="540.28" width="11.98" height="12.63" fill="#f7fbff"/>
<text x="90" y="549.65" text-anchor="end" font-size="10" class="t" textLength="35.12" lengthAdjust="spacingAndGlyphs">Chagas</text>
<line x1="92.3" y1="546.6" x2="94.6" y2="546.6" stroke="#6a6a6a" stroke-width="0.8"/>
<rect x="249.1" y="540.8" width="8.1" height="11.7" fill="#a3a0c2"/>
<line x1="246.6" y1="546.6" x2="249.1" y2="546.6" stroke="#6a6a6a" stroke-width="0.8"/>
<rect x="95.4" y="554.51" width="11.98" height="12.63" fill="#1764ab"/>
<rect x="108.98" y="554.51" width="11.98" height="12.63" fill="#1764ab"/>
<rect x="133.2" y="554.51" width="11.98" height="12.63" fill="#1764ab"/>
<rect x="146.78" y="554.51" width="11.98" height="12.63" fill="#1764ab"/>
<rect x="160.36" y="554.51" width="11.98" height="12.63" fill="#1764ab"/>
<rect x="173.94" y="554.51" width="11.98" height="12.63" fill="#1764ab"/>
<rect x="187.52" y="554.51" width="11.98" height="12.63" fill="#1764ab"/>
<rect x="212" y="554.51" width="11.98" height="12.63" fill="#f7fbff"/>
<rect x="225.58" y="554.51" width="11.98" height="12.63" fill="#1764ab"/>
<text x="90" y="563.88" text-anchor="end" font-size="10" class="t" textLength="85.85" lengthAdjust="spacingAndGlyphs">IPSET-thrombosis</text>
<line x1="92.3" y1="560.83" x2="94.6" y2="560.83" stroke="#6a6a6a" stroke-width="0.8"/>
<rect x="249.1" y="555.03" width="7.9" height="11.7" fill="#a3a0c2"/>
<line x1="246.6" y1="560.83" x2="249.1" y2="560.83" stroke="#6a6a6a" stroke-width="0.8"/>
<rect x="95.4" y="568.75" width="11.98" height="12.63" fill="#1764ab"/>
<rect x="108.98" y="568.75" width="11.98" height="12.63" fill="#1764ab"/>
<rect x="133.2" y="568.75" width="11.98" height="12.63" fill="#73c476"/>
<rect x="146.78" y="568.75" width="11.98" height="12.63" fill="#73c476"/>
<rect x="160.36" y="568.75" width="11.98" height="12.63" fill="#73c476"/>
<rect x="173.94" y="568.75" width="11.98" height="12.63" fill="#73c476"/>
<rect x="187.52" y="568.75" width="11.98" height="12.63" fill="#73c476"/>
<rect x="212" y="568.75" width="11.98" height="12.63" fill="#f7fbff"/>
<rect x="225.58" y="568.75" width="11.98" height="12.63" fill="#f7fbff"/>
<text x="90" y="578.11" text-anchor="end" font-size="10" class="t" textLength="78.61" lengthAdjust="spacingAndGlyphs">mCRC Prognosis</text>
<line x1="92.3" y1="575.06" x2="94.6" y2="575.06" stroke="#6a6a6a" stroke-width="0.8"/>
<rect x="249.1" y="569.26" width="7.9" height="11.7" fill="#a3a0c2"/>
<line x1="246.6" y1="575.06" x2="249.1" y2="575.06" stroke="#6a6a6a" stroke-width="0.8"/>
<rect x="95.4" y="582.98" width="11.98" height="12.63" fill="#1764ab"/>
<rect x="108.98" y="582.98" width="11.98" height="12.63" fill="#1764ab"/>
<rect x="133.2" y="582.98" width="11.98" height="12.63" fill="#73c476"/>
<rect x="146.78" y="582.98" width="11.98" height="12.63" fill="#73c476"/>
<rect x="160.36" y="582.98" width="11.98" height="12.63" fill="#73c476"/>
<rect x="173.94" y="582.98" width="11.98" height="12.63" fill="#73c476"/>
<rect x="187.52" y="582.98" width="11.98" height="12.63" fill="#73c476"/>
<rect x="212" y="582.98" width="11.98" height="12.63" fill="#f7fbff"/>
<rect x="225.58" y="582.98" width="11.98" height="12.63" fill="#f7fbff"/>
<text x="90" y="592.34" text-anchor="end" font-size="10" class="t" textLength="76.44" lengthAdjust="spacingAndGlyphs">IVIG Resistance</text>
<line x1="92.3" y1="589.29" x2="94.6" y2="589.29" stroke="#6a6a6a" stroke-width="0.8"/>
<rect x="249.1" y="583.49" width="7.1" height="11.7" fill="#a3a0c2"/>
<line x1="246.6" y1="589.29" x2="249.1" y2="589.29" stroke="#6a6a6a" stroke-width="0.8"/>
<rect x="95.4" y="597.21" width="11.98" height="12.63" fill="#6aaed6"/>
<rect x="108.98" y="597.21" width="11.98" height="12.63" fill="#6aaed6"/>
<rect x="133.2" y="597.21" width="11.98" height="12.63" fill="#73c476"/>
<rect x="146.78" y="597.21" width="11.98" height="12.63" fill="#bc141a"/>
<rect x="160.36" y="597.21" width="11.98" height="12.63" fill="#73c476"/>
<rect x="173.94" y="597.21" width="11.98" height="12.63" fill="#bc141a"/>
<rect x="187.52" y="597.21" width="11.98" height="12.63" fill="#73c476"/>
<rect x="212" y="597.21" width="11.98" height="12.63" fill="#f7fbff"/>
<rect x="225.58" y="597.21" width="11.98" height="12.63" fill="#f7fbff"/>
<text x="90" y="606.58" text-anchor="end" font-size="10" class="t" textLength="61.2" lengthAdjust="spacingAndGlyphs">AL Prognosis</text>
<line x1="92.3" y1="603.53" x2="94.6" y2="603.53" stroke="#6a6a6a" stroke-width="0.8"/>
<rect x="249.1" y="597.73" width="7" height="11.7" fill="#a3a0c2"/>
<line x1="246.6" y1="603.53" x2="249.1" y2="603.53" stroke="#6a6a6a" stroke-width="0.8"/>
<rect x="95.4" y="611.44" width="11.98" height="12.63" fill="#1764ab"/>
<rect x="108.98" y="611.44" width="11.98" height="12.63" fill="#1764ab"/>
<rect x="133.2" y="611.44" width="11.98" height="12.63" fill="#73c476"/>
<rect x="146.78" y="611.44" width="11.98" height="12.63" fill="#73c476"/>
<rect x="160.36" y="611.44" width="11.98" height="12.63" fill="#73c476"/>
<rect x="173.94" y="611.44" width="11.98" height="12.63" fill="#73c476"/>
<rect x="187.52" y="611.44" width="11.98" height="12.63" fill="#73c476"/>
<rect x="212" y="611.44" width="11.98" height="12.63" fill="#f7fbff"/>
<rect x="225.58" y="611.44" width="11.98" height="12.63" fill="#f7fbff"/>
<text x="90" y="620.81" text-anchor="end" font-size="10" class="t" textLength="33.74" lengthAdjust="spacingAndGlyphs">PDMES</text>
<line x1="92.3" y1="617.76" x2="94.6" y2="617.76" stroke="#6a6a6a" stroke-width="0.8"/>
<rect x="249.1" y="611.96" width="6.7" height="11.7" fill="#a3a0c2"/>
<line x1="246.6" y1="617.76" x2="249.1" y2="617.76" stroke="#6a6a6a" stroke-width="0.8"/>
<rect x="95.4" y="625.67" width="11.98" height="12.63" fill="#1764ab"/>
<rect x="108.98" y="625.67" width="11.98" height="12.63" fill="#1764ab"/>
<rect x="133.2" y="625.67" width="11.98" height="12.63" fill="#73c476"/>
<rect x="146.78" y="625.67" width="11.98" height="12.63" fill="#73c476"/>
<rect x="160.36" y="625.67" width="11.98" height="12.63" fill="#73c476"/>
<rect x="173.94" y="625.67" width="11.98" height="12.63" fill="#73c476"/>
<rect x="187.52" y="625.67" width="11.98" height="12.63" fill="#73c476"/>
<rect x="212" y="625.67" width="11.98" height="12.63" fill="#f7fbff"/>
<rect x="225.58" y="625.67" width="11.98" height="12.63" fill="#f7fbff"/>
<text x="90" y="635.04" text-anchor="end" font-size="10" class="t" textLength="63.55" lengthAdjust="spacingAndGlyphs">Delirium Risk</text>
<line x1="92.3" y1="631.99" x2="94.6" y2="631.99" stroke="#6a6a6a" stroke-width="0.8"/>
<rect x="249.1" y="626.19" width="6.7" height="11.7" fill="#a3a0c2"/>
<line x1="246.6" y1="631.99" x2="249.1" y2="631.99" stroke="#6a6a6a" stroke-width="0.8"/>
<rect x="95.4" y="639.91" width="11.98" height="12.63" fill="#1764ab"/>
<rect x="108.98" y="639.91" width="11.98" height="12.63" fill="#1764ab"/>
<rect x="133.2" y="639.91" width="11.98" height="12.63" fill="#73c476"/>
<rect x="146.78" y="639.91" width="11.98" height="12.63" fill="#73c476"/>
<rect x="160.36" y="639.91" width="11.98" height="12.63" fill="#73c476"/>
<rect x="173.94" y="639.91" width="11.98" height="12.63" fill="#73c476"/>
<rect x="187.52" y="639.91" width="11.98" height="12.63" fill="#73c476"/>
<rect x="212" y="639.91" width="11.98" height="12.63" fill="#f7fbff"/>
<rect x="225.58" y="639.91" width="11.98" height="12.63" fill="#f7fbff"/>
<text x="90" y="649.27" text-anchor="end" font-size="10" class="t" textLength="17.79" lengthAdjust="spacingAndGlyphs">PFS</text>
<line x1="92.3" y1="646.22" x2="94.6" y2="646.22" stroke="#6a6a6a" stroke-width="0.8"/>
<rect x="249.1" y="640.42" width="6.5" height="11.7" fill="#a3a0c2"/>
<line x1="246.6" y1="646.22" x2="249.1" y2="646.22" stroke="#6a6a6a" stroke-width="0.8"/>
<rect x="95.4" y="654.14" width="11.98" height="12.63" fill="#1764ab"/>
<rect x="108.98" y="654.14" width="11.98" height="12.63" fill="#1764ab"/>
<rect x="133.2" y="654.14" width="11.98" height="12.63" fill="#73c476"/>
<rect x="146.78" y="654.14" width="11.98" height="12.63" fill="#73c476"/>
<rect x="160.36" y="654.14" width="11.98" height="12.63" fill="#73c476"/>
<rect x="173.94" y="654.14" width="11.98" height="12.63" fill="#73c476"/>
<rect x="187.52" y="654.14" width="11.98" height="12.63" fill="#73c476"/>
<rect x="212" y="654.14" width="11.98" height="12.63" fill="#f7fbff"/>
<rect x="225.58" y="654.14" width="11.98" height="12.63" fill="#f7fbff"/>
<text x="90" y="663.5" text-anchor="end" font-size="10" class="t" textLength="80.08" lengthAdjust="spacingAndGlyphs">Liver Metastases</text>
<line x1="92.3" y1="660.45" x2="94.6" y2="660.45" stroke="#6a6a6a" stroke-width="0.8"/>
<rect x="249.1" y="654.65" width="6.3" height="11.7" fill="#a3a0c2"/>
<line x1="246.6" y1="660.45" x2="249.1" y2="660.45" stroke="#6a6a6a" stroke-width="0.8"/>
<rect x="95.4" y="668.37" width="11.98" height="12.63" fill="#1764ab"/>
<rect x="108.98" y="668.37" width="11.98" height="12.63" fill="#6aaed6"/>
<rect x="133.2" y="668.37" width="11.98" height="12.63" fill="#73c476"/>
<rect x="146.78" y="668.37" width="11.98" height="12.63" fill="#73c476"/>
<rect x="160.36" y="668.37" width="11.98" height="12.63" fill="#73c476"/>
<rect x="173.94" y="668.37" width="11.98" height="12.63" fill="#bc141a"/>
<rect x="187.52" y="668.37" width="11.98" height="12.63" fill="#73c476"/>
<rect x="212" y="668.37" width="11.98" height="12.63" fill="#f7fbff"/>
<rect x="225.58" y="668.37" width="11.98" height="12.63" fill="#f7fbff"/>
<text x="90" y="677.74" text-anchor="end" font-size="10" class="t" textLength="49.87" lengthAdjust="spacingAndGlyphs">RRT Index</text>
<line x1="92.3" y1="674.69" x2="94.6" y2="674.69" stroke="#6a6a6a" stroke-width="0.8"/>
<rect x="249.1" y="668.89" width="5.9" height="11.7" fill="#a3a0c2"/>
<line x1="246.6" y1="674.69" x2="249.1" y2="674.69" stroke="#6a6a6a" stroke-width="0.8"/>
<rect x="95.4" y="682.6" width="11.98" height="12.63" fill="#1764ab"/>
<rect x="108.98" y="682.6" width="11.98" height="12.63" fill="#1764ab"/>
<rect x="133.2" y="682.6" width="11.98" height="12.63" fill="#73c476"/>
<rect x="146.78" y="682.6" width="11.98" height="12.63" fill="#73c476"/>
<rect x="160.36" y="682.6" width="11.98" height="12.63" fill="#73c476"/>
<rect x="173.94" y="682.6" width="11.98" height="12.63" fill="#73c476"/>
<rect x="187.52" y="682.6" width="11.98" height="12.63" fill="#73c476"/>
<rect x="212" y="682.6" width="11.98" height="12.63" fill="#f7fbff"/>
<rect x="225.58" y="682.6" width="11.98" height="12.63" fill="#f7fbff"/>
<text x="90" y="691.97" text-anchor="end" font-size="10" class="t" textLength="44.99" lengthAdjust="spacingAndGlyphs">BrainAGE</text>
<line x1="92.3" y1="688.92" x2="94.6" y2="688.92" stroke="#6a6a6a" stroke-width="0.8"/>
<rect x="249.1" y="683.12" width="5.9" height="11.7" fill="#a3a0c2"/>
<line x1="246.6" y1="688.92" x2="249.1" y2="688.92" stroke="#6a6a6a" stroke-width="0.8"/>
<rect x="95.4" y="696.83" width="11.98" height="12.63" fill="#1764ab"/>
<rect x="108.98" y="696.83" width="11.98" height="12.63" fill="#1764ab"/>
<rect x="133.2" y="696.83" width="11.98" height="12.63" fill="#73c476"/>
<rect x="146.78" y="696.83" width="11.98" height="12.63" fill="#73c476"/>
<rect x="160.36" y="696.83" width="11.98" height="12.63" fill="#73c476"/>
<rect x="173.94" y="696.83" width="11.98" height="12.63" fill="#73c476"/>
<rect x="187.52" y="696.83" width="11.98" height="12.63" fill="#73c476"/>
<rect x="212" y="696.83" width="11.98" height="12.63" fill="#f7fbff"/>
<rect x="225.58" y="696.83" width="11.98" height="12.63" fill="#f7fbff"/>
<text x="90" y="706.2" text-anchor="end" font-size="10" class="t" textLength="77.43" lengthAdjust="spacingAndGlyphs">CMML Prognosis</text>
<line x1="92.3" y1="703.15" x2="94.6" y2="703.15" stroke="#6a6a6a" stroke-width="0.8"/>
<rect x="249.1" y="697.35" width="5.8" height="11.7" fill="#a3a0c2"/>
<line x1="246.6" y1="703.15" x2="249.1" y2="703.15" stroke="#6a6a6a" stroke-width="0.8"/>
<rect x="95.4" y="711.07" width="11.98" height="12.63" fill="#1764ab"/>
<rect x="108.98" y="711.07" width="11.98" height="12.63" fill="#bc141a"/>
<rect x="133.2" y="711.07" width="11.98" height="12.63" fill="#73c476"/>
<rect x="146.78" y="711.07" width="11.98" height="12.63" fill="#73c476"/>
<rect x="160.36" y="711.07" width="11.98" height="12.63" fill="#73c476"/>
<rect x="173.94" y="711.07" width="11.98" height="12.63" fill="#73c476"/>
<rect x="187.52" y="711.07" width="11.98" height="12.63" fill="#73c476"/>
<rect x="212" y="711.07" width="11.98" height="12.63" fill="#f7fbff"/>
<rect x="225.58" y="711.07" width="11.98" height="12.63" fill="#1764ab"/>
<text x="90" y="720.43" text-anchor="end" font-size="10" class="t" textLength="36.33" lengthAdjust="spacingAndGlyphs">CRB-65</text>
<line x1="92.3" y1="717.38" x2="94.6" y2="717.38" stroke="#6a6a6a" stroke-width="0.8"/>
<rect x="249.1" y="711.58" width="5.8" height="11.7" fill="#a3a0c2"/>
<line x1="246.6" y1="717.38" x2="249.1" y2="717.38" stroke="#6a6a6a" stroke-width="0.8"/>
<rect x="95.4" y="725.3" width="11.98" height="12.63" fill="#1764ab"/>
<rect x="108.98" y="725.3" width="11.98" height="12.63" fill="#1764ab"/>
<rect x="133.2" y="725.3" width="11.98" height="12.63" fill="#73c476"/>
<rect x="146.78" y="725.3" width="11.98" height="12.63" fill="#73c476"/>
<rect x="160.36" y="725.3" width="11.98" height="12.63" fill="#1764ab"/>
<rect x="173.94" y="725.3" width="11.98" height="12.63" fill="#73c476"/>
<rect x="187.52" y="725.3" width="11.98" height="12.63" fill="#73c476"/>
<rect x="212" y="725.3" width="11.98" height="12.63" fill="#1764ab"/>
<rect x="225.58" y="725.3" width="11.98" height="12.63" fill="#1764ab"/>
<text x="90" y="734.66" text-anchor="end" font-size="10" class="t" textLength="75.44" lengthAdjust="spacingAndGlyphs">IMDC Prognosis</text>
<line x1="92.3" y1="731.61" x2="94.6" y2="731.61" stroke="#6a6a6a" stroke-width="0.8"/>
<rect x="249.1" y="725.81" width="5.4" height="11.7" fill="#a3a0c2"/>
<line x1="246.6" y1="731.61" x2="249.1" y2="731.61" stroke="#6a6a6a" stroke-width="0.8"/>
<rect x="95.4" y="739.53" width="11.98" height="12.63" fill="#1764ab"/>
<rect x="108.98" y="739.53" width="11.98" height="12.63" fill="#1764ab"/>
<rect x="133.2" y="739.53" width="11.98" height="12.63" fill="#73c476"/>
<rect x="146.78" y="739.53" width="11.98" height="12.63" fill="#73c476"/>
<rect x="160.36" y="739.53" width="11.98" height="12.63" fill="#73c476"/>
<rect x="173.94" y="739.53" width="11.98" height="12.63" fill="#73c476"/>
<rect x="187.52" y="739.53" width="11.98" height="12.63" fill="#73c476"/>
<rect x="212" y="739.53" width="11.98" height="12.63" fill="#f7fbff"/>
<rect x="225.58" y="739.53" width="11.98" height="12.63" fill="#f7fbff"/>
<text x="90" y="748.9" text-anchor="end" font-size="10" class="t" textLength="20.07" lengthAdjust="spacingAndGlyphs">MFS</text>
<line x1="92.3" y1="745.85" x2="94.6" y2="745.85" stroke="#6a6a6a" stroke-width="0.8"/>
<rect x="249.1" y="740.05" width="5.2" height="11.7" fill="#a3a0c2"/>
<line x1="246.6" y1="745.85" x2="249.1" y2="745.85" stroke="#6a6a6a" stroke-width="0.8"/>
<rect x="95.4" y="753.76" width="11.98" height="12.63" fill="#bc141a"/>
<rect x="108.98" y="753.76" width="11.98" height="12.63" fill="#1764ab"/>
<rect x="133.2" y="753.76" width="11.98" height="12.63" fill="#bc141a"/>
<rect x="146.78" y="753.76" width="11.98" height="12.63" fill="#bc141a"/>
<rect x="160.36" y="753.76" width="11.98" height="12.63" fill="#bc141a"/>
<rect x="173.94" y="753.76" width="11.98" height="12.63" fill="#bc141a"/>
<rect x="187.52" y="753.76" width="11.98" height="12.63" fill="#bc141a"/>
<rect x="212" y="753.76" width="11.98" height="12.63" fill="#f7fbff"/>
<rect x="225.58" y="753.76" width="11.98" height="12.63" fill="#f7fbff"/>
<text x="90" y="763.13" text-anchor="end" font-size="10" class="t" textLength="17.09" lengthAdjust="spacingAndGlyphs">VIS</text>
<line x1="92.3" y1="760.08" x2="94.6" y2="760.08" stroke="#6a6a6a" stroke-width="0.8"/>
<rect x="249.1" y="754.28" width="5.2" height="11.7" fill="#a3a0c2"/>
<line x1="246.6" y1="760.08" x2="249.1" y2="760.08" stroke="#6a6a6a" stroke-width="0.8"/>
<line x1="101.39" y1="767.19" x2="101.39" y2="769.49" stroke="#6a6a6a" stroke-width="0.8"/>
<g transform="translate(100.14 777.29) rotate(-45)"><text x="0" y="0" text-anchor="end" font-size="10" class="t" textLength="24.66" lengthAdjust="spacingAndGlyphs">Logic</text></g>
<line x1="114.97" y1="767.19" x2="114.97" y2="769.49" stroke="#6a6a6a" stroke-width="0.8"/>
<g transform="translate(113.72 777.29) rotate(-45)"><text x="0" y="0" text-anchor="end" font-size="10" class="t" textLength="33.02" lengthAdjust="spacingAndGlyphs">Interp.</text></g>
<line x1="139.19" y1="767.19" x2="139.19" y2="769.49" stroke="#6a6a6a" stroke-width="0.8"/>
<g transform="translate(137.94 777.29) rotate(-45)"><text x="0" y="0" text-anchor="end" font-size="10" class="t" textLength="13.59" lengthAdjust="spacingAndGlyphs">Q1</text></g>
<line x1="152.77" y1="767.19" x2="152.77" y2="769.49" stroke="#6a6a6a" stroke-width="0.8"/>
<g transform="translate(151.52 777.29) rotate(-45)"><text x="0" y="0" text-anchor="end" font-size="10" class="t" textLength="13.59" lengthAdjust="spacingAndGlyphs">Q2</text></g>
<line x1="166.35" y1="767.19" x2="166.35" y2="769.49" stroke="#6a6a6a" stroke-width="0.8"/>
<g transform="translate(165.1 777.29) rotate(-45)"><text x="0" y="0" text-anchor="end" font-size="10" class="t" textLength="13.59" lengthAdjust="spacingAndGlyphs">Q3</text></g>
<line x1="179.93" y1="767.19" x2="179.93" y2="769.49" stroke="#6a6a6a" stroke-width="0.8"/>
<g transform="translate(178.68 777.29) rotate(-45)"><text x="0" y="0" text-anchor="end" font-size="10" class="t" textLength="13.59" lengthAdjust="spacingAndGlyphs">Q4</text></g>
<line x1="193.51" y1="767.19" x2="193.51" y2="769.49" stroke="#6a6a6a" stroke-width="0.8"/>
<g transform="translate(192.26 777.29) rotate(-45)"><text x="0" y="0" text-anchor="end" font-size="10" class="t" textLength="13.59" lengthAdjust="spacingAndGlyphs">Q5</text></g>
<line x1="217.99" y1="767.19" x2="217.99" y2="769.49" stroke="#6a6a6a" stroke-width="0.8"/>
<g transform="translate(216.74 777.29) rotate(-45)"><text x="0" y="0" text-anchor="end" font-size="10" class="t" textLength="35.41" lengthAdjust="spacingAndGlyphs">MDCalc</text></g>
<line x1="231.57" y1="767.19" x2="231.57" y2="769.49" stroke="#6a6a6a" stroke-width="0.8"/>
<g transform="translate(230.32 777.29) rotate(-45)"><text x="0" y="0" text-anchor="end" font-size="10" class="t" textLength="32.07" lengthAdjust="spacingAndGlyphs">Others</text></g>
<line x1="249.1" y1="55.59" x2="249.1" y2="768.09" stroke="#505050" stroke-width="0.95"/>
<line x1="248.65" y1="767.64" x2="330.5" y2="767.64" stroke="#505050" stroke-width="0.95"/>
<line x1="249.1" y1="767.64" x2="249.1" y2="770.04" stroke="#6a6a6a" stroke-width="0.8"/>
<text x="249.1" y="778.8" text-anchor="middle" font-size="10" class="t" textLength="6.07" lengthAdjust="spacingAndGlyphs">0</text>
<line x1="290.4" y1="767.64" x2="290.4" y2="770.04" stroke="#6a6a6a" stroke-width="0.8"/>
<text x="290.4" y="778.8" text-anchor="middle" font-size="10" class="t" textLength="24.29" lengthAdjust="spacingAndGlyphs">2000</text>
<text x="289.8" y="791" text-anchor="middle" font-size="10" class="t" textLength="35.31" lengthAdjust="spacingAndGlyphs">citation</text>
<path d="M91.1 47.6 V43.3 H124.2 V47.6" fill="none" stroke="#3a3a3a" stroke-width="1.1"/>
<text x="107.65" y="36.9" text-anchor="middle" font-size="7.35" font-weight="bold" fill="#1a1a1a">Correctness</text>
<path d="M133.5 47.6 V43.3 H199.3 V47.6" fill="none" stroke="#3a3a3a" stroke-width="1.1"/>
<text x="166.4" y="36.9" text-anchor="middle" font-size="7.35" font-weight="bold" fill="#1a1a1a">Unit Tests</text>
<path d="M208.6 47.6 V43.3 H241.8 V47.6" fill="none" stroke="#3a3a3a" stroke-width="1.1"/>
<text x="225.2" y="36.9" text-anchor="middle" font-size="7.35" font-weight="bold" fill="#1a1a1a">Coverage</text>
<text x="14.4" y="40.3" font-size="16.2" font-weight="bold" fill="#111">a</text>
<rect x="433.8" y="56.39" width="11.98" height="12.63" fill="#1764ab"/>
<rect x="447.38" y="56.39" width="11.98" height="12.63" fill="#6aaed6"/>
<rect x="471.6" y="56.39" width="11.98" height="12.63" fill="#73c476"/>
<rect x="485.18" y="56.39" width="11.98" height="12.63" fill="#73c476"/>
<rect x="498.76" y="56.39" width="11.98" height="12.63" fill="#73c476"/>
<rect x="512.34" y="56.39" width="11.98" height="12.63" fill="#73c476"/>
<rect x="525.92" y="56.39" width="11.98" height="12.63" fill="#73c476"/>
<rect x="550.4" y="56.39" width="11.98" height="12.63" fill="#f7fbff"/>
<rect x="563.98" y="56.39" width="11.98" height="12.63" fill="#f7fbff"/>
<text x="428.4" y="65.76" text-anchor="end" font-size="10" class="t" textLength="55.98" lengthAdjust="spacingAndGlyphs">mCRC Liver</text>
<line x1="430.7" y1="62.71" x2="433" y2="62.71" stroke="#6a6a6a" stroke-width="0.8"/>
<rect x="587.5" y="56.91" width="77.2" height="11.7" fill="#a3a0c2"/>
<line x1="585" y1="62.71" x2="587.5" y2="62.71" stroke="#6a6a6a" stroke-width="0.8"/>
<rect x="433.8" y="70.63" width="11.98" height="12.63" fill="#bc141a"/>
<rect x="447.38" y="70.63" width="11.98" height="12.63" fill="#6aaed6"/>
<rect x="471.6" y="70.63" width="11.98" height="12.63" fill="#bc141a"/>
<rect x="485.18" y="70.63" width="11.98" height="12.63" fill="#bc141a"/>
<rect x="498.76" y="70.63" width="11.98" height="12.63" fill="#bc141a"/>
<rect x="512.34" y="70.63" width="11.98" height="12.63" fill="#bc141a"/>
<rect x="525.92" y="70.63" width="11.98" height="12.63" fill="#bc141a"/>
<rect x="550.4" y="70.63" width="11.98" height="12.63" fill="#f7fbff"/>
<rect x="563.98" y="70.63" width="11.98" height="12.63" fill="#f7fbff"/>
<text x="428.4" y="79.99" text-anchor="end" font-size="10" class="t" textLength="43.02" lengthAdjust="spacingAndGlyphs">DVT Risk</text>
<line x1="430.7" y1="76.94" x2="433" y2="76.94" stroke="#6a6a6a" stroke-width="0.8"/>
<rect x="587.5" y="71.14" width="53.9" height="11.7" fill="#a3a0c2"/>
<line x1="585" y1="76.94" x2="587.5" y2="76.94" stroke="#6a6a6a" stroke-width="0.8"/>
<rect x="433.8" y="84.86" width="11.98" height="12.63" fill="#bc141a"/>
<rect x="447.38" y="84.86" width="11.98" height="12.63" fill="#1764ab"/>
<rect x="471.6" y="84.86" width="11.98" height="12.63" fill="#bc141a"/>
<rect x="485.18" y="84.86" width="11.98" height="12.63" fill="#bc141a"/>
<rect x="498.76" y="84.86" width="11.98" height="12.63" fill="#bc141a"/>
<rect x="512.34" y="84.86" width="11.98" height="12.63" fill="#bc141a"/>
<rect x="525.92" y="84.86" width="11.98" height="12.63" fill="#bc141a"/>
<rect x="550.4" y="84.86" width="11.98" height="12.63" fill="#1764ab"/>
<rect x="563.98" y="84.86" width="11.98" height="12.63" fill="#f7fbff"/>
<text x="428.4" y="94.22" text-anchor="end" font-size="10" class="t" textLength="103.61" lengthAdjust="spacingAndGlyphs">HCC Decompensation</text>
<line x1="430.7" y1="91.17" x2="433" y2="91.17" stroke="#6a6a6a" stroke-width="0.8"/>
<rect x="587.5" y="85.37" width="45.8" height="11.7" fill="#a3a0c2"/>
<line x1="585" y1="91.17" x2="587.5" y2="91.17" stroke="#6a6a6a" stroke-width="0.8"/>
<rect x="433.8" y="99.09" width="11.98" height="12.63" fill="#1764ab"/>
<rect x="447.38" y="99.09" width="11.98" height="12.63" fill="#1764ab"/>
<rect x="471.6" y="99.09" width="11.98" height="12.63" fill="#73c476"/>
<rect x="485.18" y="99.09" width="11.98" height="12.63" fill="#73c476"/>
<rect x="498.76" y="99.09" width="11.98" height="12.63" fill="#73c476"/>
<rect x="512.34" y="99.09" width="11.98" height="12.63" fill="#73c476"/>
<rect x="525.92" y="99.09" width="11.98" height="12.63" fill="#73c476"/>
<rect x="550.4" y="99.09" width="11.98" height="12.63" fill="#f7fbff"/>
<rect x="563.98" y="99.09" width="11.98" height="12.63" fill="#f7fbff"/>
<text x="428.4" y="108.46" text-anchor="end" font-size="10" class="t" textLength="29.98" lengthAdjust="spacingAndGlyphs">MSTFI</text>
<line x1="430.7" y1="105.41" x2="433" y2="105.41" stroke="#6a6a6a" stroke-width="0.8"/>
<rect x="587.5" y="99.61" width="36.5" height="11.7" fill="#a3a0c2"/>
<line x1="585" y1="105.41" x2="587.5" y2="105.41" stroke="#6a6a6a" stroke-width="0.8"/>
<rect x="433.8" y="113.32" width="11.98" height="12.63" fill="#1764ab"/>
<rect x="447.38" y="113.32" width="11.98" height="12.63" fill="#1764ab"/>
<rect x="471.6" y="113.32" width="11.98" height="12.63" fill="#73c476"/>
<rect x="485.18" y="113.32" width="11.98" height="12.63" fill="#73c476"/>
<rect x="498.76" y="113.32" width="11.98" height="12.63" fill="#73c476"/>
<rect x="512.34" y="113.32" width="11.98" height="12.63" fill="#73c476"/>
<rect x="525.92" y="113.32" width="11.98" height="12.63" fill="#73c476"/>
<rect x="550.4" y="113.32" width="11.98" height="12.63" fill="#f7fbff"/>
<rect x="563.98" y="113.32" width="11.98" height="12.63" fill="#f7fbff"/>
<text x="428.4" y="122.69" text-anchor="end" font-size="10" class="t" textLength="36.56" lengthAdjust="spacingAndGlyphs">RARS-T</text>
<line x1="430.7" y1="119.64" x2="433" y2="119.64" stroke="#6a6a6a" stroke-width="0.8"/>
<rect x="587.5" y="113.84" width="33.4" height="11.7" fill="#a3a0c2"/>
<line x1="585" y1="119.64" x2="587.5" y2="119.64" stroke="#6a6a6a" stroke-width="0.8"/>
<rect x="433.8" y="127.55" width="11.98" height="12.63" fill="#1764ab"/>
<rect x="447.38" y="127.55" width="11.98" height="12.63" fill="#6aaed6"/>
<rect x="471.6" y="127.55" width="11.98" height="12.63" fill="#73c476"/>
<rect x="485.18" y="127.55" width="11.98" height="12.63" fill="#73c476"/>
<rect x="498.76" y="127.55" width="11.98" height="12.63" fill="#73c476"/>
<rect x="512.34" y="127.55" width="11.98" height="12.63" fill="#73c476"/>
<rect x="525.92" y="127.55" width="11.98" height="12.63" fill="#73c476"/>
<rect x="550.4" y="127.55" width="11.98" height="12.63" fill="#f7fbff"/>
<rect x="563.98" y="127.55" width="11.98" height="12.63" fill="#f7fbff"/>
<text x="428.4" y="136.92" text-anchor="end" font-size="10" class="t" textLength="36.41" lengthAdjust="spacingAndGlyphs">ARCTIC</text>
<line x1="430.7" y1="133.87" x2="433" y2="133.87" stroke="#6a6a6a" stroke-width="0.8"/>
<rect x="587.5" y="128.07" width="32.1" height="11.7" fill="#a3a0c2"/>
<line x1="585" y1="133.87" x2="587.5" y2="133.87" stroke="#6a6a6a" stroke-width="0.8"/>
<rect x="433.8" y="141.79" width="11.98" height="12.63" fill="#1764ab"/>
<rect x="447.38" y="141.79" width="11.98" height="12.63" fill="#1764ab"/>
<rect x="471.6" y="141.79" width="11.98" height="12.63" fill="#73c476"/>
<rect x="485.18" y="141.79" width="11.98" height="12.63" fill="#73c476"/>
<rect x="498.76" y="141.79" width="11.98" height="12.63" fill="#73c476"/>
<rect x="512.34" y="141.79" width="11.98" height="12.63" fill="#73c476"/>
<rect x="525.92" y="141.79" width="11.98" height="12.63" fill="#73c476"/>
<rect x="550.4" y="141.79" width="11.98" height="12.63" fill="#f7fbff"/>
<rect x="563.98" y="141.79" width="11.98" height="12.63" fill="#f7fbff"/>
<text x="428.4" y="151.15" text-anchor="end" font-size="10" class="t" textLength="70.34" lengthAdjust="spacingAndGlyphs">COPD Severity</text>
<line x1="430.7" y1="148.1" x2="433" y2="148.1" stroke="#6a6a6a" stroke-width="0.8"/>
<rect x="587.5" y="142.3" width="31.5" height="11.7" fill="#a3a0c2"/>
<line x1="585" y1="148.1" x2="587.5" y2="148.1" stroke="#6a6a6a" stroke-width="0.8"/>
<rect x="433.8" y="156.02" width="11.98" height="12.63" fill="#1764ab"/>
<rect x="447.38" y="156.02" width="11.98" height="12.63" fill="#1764ab"/>
<rect x="471.6" y="156.02" width="11.98" height="12.63" fill="#73c476"/>
<rect x="485.18" y="156.02" width="11.98" height="12.63" fill="#73c476"/>
<rect x="498.76" y="156.02" width="11.98" height="12.63" fill="#73c476"/>
<rect x="512.34" y="156.02" width="11.98" height="12.63" fill="#73c476"/>
<rect x="525.92" y="156.02" width="11.98" height="12.63" fill="#73c476"/>
<rect x="550.4" y="156.02" width="11.98" height="12.63" fill="#f7fbff"/>
<rect x="563.98" y="156.02" width="11.98" height="12.63" fill="#f7fbff"/>
<text x="428.4" y="165.38" text-anchor="end" font-size="10" class="t" textLength="35.32" lengthAdjust="spacingAndGlyphs">A-DIVA</text>
<line x1="430.7" y1="162.33" x2="433" y2="162.33" stroke="#6a6a6a" stroke-width="0.8"/>
<rect x="587.5" y="156.53" width="30.8" height="11.7" fill="#a3a0c2"/>
<line x1="585" y1="162.33" x2="587.5" y2="162.33" stroke="#6a6a6a" stroke-width="0.8"/>
<rect x="433.8" y="170.25" width="11.98" height="12.63" fill="#1764ab"/>
<rect x="447.38" y="170.25" width="11.98" height="12.63" fill="#1764ab"/>
<rect x="471.6" y="170.25" width="11.98" height="12.63" fill="#73c476"/>
<rect x="485.18" y="170.25" width="11.98" height="12.63" fill="#73c476"/>
<rect x="498.76" y="170.25" width="11.98" height="12.63" fill="#73c476"/>
<rect x="512.34" y="170.25" width="11.98" height="12.63" fill="#73c476"/>
<rect x="525.92" y="170.25" width="11.98" height="12.63" fill="#73c476"/>
<rect x="550.4" y="170.25" width="11.98" height="12.63" fill="#f7fbff"/>
<rect x="563.98" y="170.25" width="11.98" height="12.63" fill="#f7fbff"/>
<text x="428.4" y="179.62" text-anchor="end" font-size="10" class="t" textLength="92.93" lengthAdjust="spacingAndGlyphs">Extubation Success</text>
<line x1="430.7" y1="176.57" x2="433" y2="176.57" stroke="#6a6a6a" stroke-width="0.8"/>
<rect x="587.5" y="170.77" width="30.4" height="11.7" fill="#a3a0c2"/>
<line x1="585" y1="176.57" x2="587.5" y2="176.57" stroke="#6a6a6a" stroke-width="0.8"/>
<rect x="433.8" y="184.48" width="11.98" height="12.63" fill="#1764ab"/>
<rect x="447.38" y="184.48" width="11.98" height="12.63" fill="#1764ab"/>
<rect x="471.6" y="184.48" width="11.98" height="12.63" fill="#73c476"/>
<rect x="485.18" y="184.48" width="11.98" height="12.63" fill="#73c476"/>
<rect x="498.76" y="184.48" width="11.98" height="12.63" fill="#73c476"/>
<rect x="512.34" y="184.48" width="11.98" height="12.63" fill="#73c476"/>
<rect x="525.92" y="184.48" width="11.98" height="12.63" fill="#73c476"/>
<rect x="550.4" y="184.48" width="11.98" height="12.63" fill="#f7fbff"/>
<rect x="563.98" y="184.48" width="11.98" height="12.63" fill="#f7fbff"/>
<text x="428.4" y="193.85" text-anchor="end" font-size="10" class="t" textLength="51.55" lengthAdjust="spacingAndGlyphs">AVM Score</text>
<line x1="430.7" y1="190.8" x2="433" y2="190.8" stroke="#6a6a6a" stroke-width="0.8"/>
<rect x="587.5" y="185" width="26.3" height="11.7" fill="#a3a0c2"/>
<line x1="585" y1="190.8" x2="587.5" y2="190.8" stroke="#6a6a6a" stroke-width="0.8"/>
<rect x="433.8" y="198.71" width="11.98" height="12.63" fill="#6aaed6"/>
<rect x="447.38" y="198.71" width="11.98" height="12.63" fill="#1764ab"/>
<rect x="471.6" y="198.71" width="11.98" height="12.63" fill="#73c476"/>
<rect x="485.18" y="198.71" width="11.98" height="12.63" fill="#73c476"/>
<rect x="498.76" y="198.71" width="11.98" height="12.63" fill="#73c476"/>
<rect x="512.34" y="198.71" width="11.98" height="12.63" fill="#73c476"/>
<rect x="525.92" y="198.71" width="11.98" height="12.63" fill="#73c476"/>
<rect x="550.4" y="198.71" width="11.98" height="12.63" fill="#f7fbff"/>
<rect x="563.98" y="198.71" width="11.98" height="12.63" fill="#f7fbff"/>
<text x="428.4" y="208.08" text-anchor="end" font-size="10" class="t" textLength="24.82" lengthAdjust="spacingAndGlyphs">PPRC</text>
<line x1="430.7" y1="205.03" x2="433" y2="205.03" stroke="#6a6a6a" stroke-width="0.8"/>
<rect x="587.5" y="199.23" width="23.4" height="11.7" fill="#a3a0c2"/>
<line x1="585" y1="205.03" x2="587.5" y2="205.03" stroke="#6a6a6a" stroke-width="0.8"/>
<rect x="433.8" y="212.95" width="11.98" height="12.63" fill="#1764ab"/>
<rect x="447.38" y="212.95" width="11.98" height="12.63" fill="#1764ab"/>
<rect x="471.6" y="212.95" width="11.98" height="12.63" fill="#73c476"/>
<rect x="485.18" y="212.95" width="11.98" height="12.63" fill="#73c476"/>
<rect x="498.76" y="212.95" width="11.98" height="12.63" fill="#73c476"/>
<rect x="512.34" y="212.95" width="11.98" height="12.63" fill="#73c476"/>
<rect x="525.92" y="212.95" width="11.98" height="12.63" fill="#73c476"/>
<rect x="550.4" y="212.95" width="11.98" height="12.63" fill="#f7fbff"/>
<rect x="563.98" y="212.95" width="11.98" height="12.63" fill="#f7fbff"/>
<text x="428.4" y="222.31" text-anchor="end" font-size="10" class="t" textLength="32.45" lengthAdjust="spacingAndGlyphs">SPURS</text>
<line x1="430.7" y1="219.26" x2="433" y2="219.26" stroke="#6a6a6a" stroke-width="0.8"/>
<rect x="587.5" y="213.46" width="22.4" height="11.7" fill="#a3a0c2"/>
<line x1="585" y1="219.26" x2="587.5" y2="219.26" stroke="#6a6a6a" stroke-width="0.8"/>
<rect x="433.8" y="227.18" width="11.98" height="12.63" fill="#1764ab"/>
<rect x="447.38" y="227.18" width="11.98" height="12.63" fill="#1764ab"/>
<rect x="471.6" y="227.18" width="11.98" height="12.63" fill="#73c476"/>
<rect x="485.18" y="227.18" width="11.98" height="12.63" fill="#73c476"/>
<rect x="498.76" y="227.18" width="11.98" height="12.63" fill="#73c476"/>
<rect x="512.34" y="227.18" width="11.98" height="12.63" fill="#73c476"/>
<rect x="525.92" y="227.18" width="11.98" height="12.63" fill="#73c476"/>
<rect x="550.4" y="227.18" width="11.98" height="12.63" fill="#f7fbff"/>
<rect x="563.98" y="227.18" width="11.98" height="12.63" fill="#f7fbff"/>
<text x="428.4" y="236.54" text-anchor="end" font-size="10" class="t" textLength="77.13" lengthAdjust="spacingAndGlyphs">SCC Recurrence</text>
<line x1="430.7" y1="233.49" x2="433" y2="233.49" stroke="#6a6a6a" stroke-width="0.8"/>
<rect x="587.5" y="227.69" width="19.9" height="11.7" fill="#a3a0c2"/>
<line x1="585" y1="233.49" x2="587.5" y2="233.49" stroke="#6a6a6a" stroke-width="0.8"/>
<rect x="433.8" y="241.41" width="11.98" height="12.63" fill="#1764ab"/>
<rect x="447.38" y="241.41" width="11.98" height="12.63" fill="#6aaed6"/>
<rect x="471.6" y="241.41" width="11.98" height="12.63" fill="#73c476"/>
<rect x="485.18" y="241.41" width="11.98" height="12.63" fill="#73c476"/>
<rect x="498.76" y="241.41" width="11.98" height="12.63" fill="#73c476"/>
<rect x="512.34" y="241.41" width="11.98" height="12.63" fill="#73c476"/>
<rect x="525.92" y="241.41" width="11.98" height="12.63" fill="#73c476"/>
<rect x="550.4" y="241.41" width="11.98" height="12.63" fill="#f7fbff"/>
<rect x="563.98" y="241.41" width="11.98" height="12.63" fill="#f7fbff"/>
<text x="428.4" y="250.78" text-anchor="end" font-size="10" class="t" textLength="89.42" lengthAdjust="spacingAndGlyphs">CRP Albumin Ratio</text>
<line x1="430.7" y1="247.73" x2="433" y2="247.73" stroke="#6a6a6a" stroke-width="0.8"/>
<rect x="587.5" y="241.93" width="19.5" height="11.7" fill="#a3a0c2"/>
<line x1="585" y1="247.73" x2="587.5" y2="247.73" stroke="#6a6a6a" stroke-width="0.8"/>
<rect x="433.8" y="255.64" width="11.98" height="12.63" fill="#1764ab"/>
<rect x="447.38" y="255.64" width="11.98" height="12.63" fill="#1764ab"/>
<rect x="471.6" y="255.64" width="11.98" height="12.63" fill="#73c476"/>
<rect x="485.18" y="255.64" width="11.98" height="12.63" fill="#73c476"/>
<rect x="498.76" y="255.64" width="11.98" height="12.63" fill="#73c476"/>
<rect x="512.34" y="255.64" width="11.98" height="12.63" fill="#73c476"/>
<rect x="525.92" y="255.64" width="11.98" height="12.63" fill="#73c476"/>
<rect x="550.4" y="255.64" width="11.98" height="12.63" fill="#f7fbff"/>
<rect x="563.98" y="255.64" width="11.98" height="12.63" fill="#f7fbff"/>
<text x="428.4" y="265.01" text-anchor="end" font-size="10" class="t" textLength="71.13" lengthAdjust="spacingAndGlyphs">ACA Calculator</text>
<line x1="430.7" y1="261.96" x2="433" y2="261.96" stroke="#6a6a6a" stroke-width="0.8"/>
<rect x="587.5" y="256.16" width="18.7" height="11.7" fill="#a3a0c2"/>
<line x1="585" y1="261.96" x2="587.5" y2="261.96" stroke="#6a6a6a" stroke-width="0.8"/>
<rect x="433.8" y="269.87" width="11.98" height="12.63" fill="#1764ab"/>
<rect x="447.38" y="269.87" width="11.98" height="12.63" fill="#6aaed6"/>
<rect x="471.6" y="269.87" width="11.98" height="12.63" fill="#73c476"/>
<rect x="485.18" y="269.87" width="11.98" height="12.63" fill="#bc141a"/>
<rect x="498.76" y="269.87" width="11.98" height="12.63" fill="#73c476"/>
<rect x="512.34" y="269.87" width="11.98" height="12.63" fill="#bc141a"/>
<rect x="525.92" y="269.87" width="11.98" height="12.63" fill="#73c476"/>
<rect x="550.4" y="269.87" width="11.98" height="12.63" fill="#f7fbff"/>
<rect x="563.98" y="269.87" width="11.98" height="12.63" fill="#f7fbff"/>
<text x="428.4" y="279.24" text-anchor="end" font-size="10" class="t" textLength="104.56" lengthAdjust="spacingAndGlyphs">Transplant Iron Score</text>
<line x1="430.7" y1="276.19" x2="433" y2="276.19" stroke="#6a6a6a" stroke-width="0.8"/>
<rect x="587.5" y="270.39" width="18.7" height="11.7" fill="#a3a0c2"/>
<line x1="585" y1="276.19" x2="587.5" y2="276.19" stroke="#6a6a6a" stroke-width="0.8"/>
<rect x="433.8" y="284.11" width="11.98" height="12.63" fill="#1764ab"/>
<rect x="447.38" y="284.11" width="11.98" height="12.63" fill="#1764ab"/>
<rect x="471.6" y="284.11" width="11.98" height="12.63" fill="#73c476"/>
<rect x="485.18" y="284.11" width="11.98" height="12.63" fill="#73c476"/>
<rect x="498.76" y="284.11" width="11.98" height="12.63" fill="#73c476"/>
<rect x="512.34" y="284.11" width="11.98" height="12.63" fill="#73c476"/>
<rect x="525.92" y="284.11" width="11.98" height="12.63" fill="#73c476"/>
<rect x="550.4" y="284.11" width="11.98" height="12.63" fill="#f7fbff"/>
<rect x="563.98" y="284.11" width="11.98" height="12.63" fill="#f7fbff"/>
<text x="428.4" y="293.47" text-anchor="end" font-size="10" class="t" textLength="125.82" lengthAdjust="spacingAndGlyphs">Vancomycin MIC Predictor</text>
<line x1="430.7" y1="290.42" x2="433" y2="290.42" stroke="#6a6a6a" stroke-width="0.8"/>
<rect x="587.5" y="284.62" width="16.5" height="11.7" fill="#a3a0c2"/>
<line x1="585" y1="290.42" x2="587.5" y2="290.42" stroke="#6a6a6a" stroke-width="0.8"/>
<rect x="433.8" y="298.34" width="11.98" height="12.63" fill="#1764ab"/>
<rect x="447.38" y="298.34" width="11.98" height="12.63" fill="#1764ab"/>
<rect x="471.6" y="298.34" width="11.98" height="12.63" fill="#73c476"/>
<rect x="485.18" y="298.34" width="11.98" height="12.63" fill="#73c476"/>
<rect x="498.76" y="298.34" width="11.98" height="12.63" fill="#73c476"/>
<rect x="512.34" y="298.34" width="11.98" height="12.63" fill="#73c476"/>
<rect x="525.92" y="298.34" width="11.98" height="12.63" fill="#73c476"/>
<rect x="550.4" y="298.34" width="11.98" height="12.63" fill="#f7fbff"/>
<rect x="563.98" y="298.34" width="11.98" height="12.63" fill="#f7fbff"/>
<text x="428.4" y="307.7" text-anchor="end" font-size="10" class="t" textLength="86.33" lengthAdjust="spacingAndGlyphs">Hemodialysis Risk</text>
<line x1="430.7" y1="304.65" x2="433" y2="304.65" stroke="#6a6a6a" stroke-width="0.8"/>
<rect x="587.5" y="298.85" width="15.4" height="11.7" fill="#a3a0c2"/>
<line x1="585" y1="304.65" x2="587.5" y2="304.65" stroke="#6a6a6a" stroke-width="0.8"/>
<rect x="433.8" y="312.57" width="11.98" height="12.63" fill="#bc141a"/>
<rect x="447.38" y="312.57" width="11.98" height="12.63" fill="#bc141a"/>
<rect x="471.6" y="312.57" width="11.98" height="12.63" fill="#73c476"/>
<rect x="485.18" y="312.57" width="11.98" height="12.63" fill="#73c476"/>
<rect x="498.76" y="312.57" width="11.98" height="12.63" fill="#73c476"/>
<rect x="512.34" y="312.57" width="11.98" height="12.63" fill="#73c476"/>
<rect x="525.92" y="312.57" width="11.98" height="12.63" fill="#73c476"/>
<rect x="550.4" y="312.57" width="11.98" height="12.63" fill="#f7fbff"/>
<rect x="563.98" y="312.57" width="11.98" height="12.63" fill="#f7fbff"/>
<text x="428.4" y="321.94" text-anchor="end" font-size="10" class="t" textLength="74.31" lengthAdjust="spacingAndGlyphs">Tibial Nonunion</text>
<line x1="430.7" y1="318.89" x2="433" y2="318.89" stroke="#6a6a6a" stroke-width="0.8"/>
<rect x="587.5" y="313.09" width="15.4" height="11.7" fill="#a3a0c2"/>
<line x1="585" y1="318.89" x2="587.5" y2="318.89" stroke="#6a6a6a" stroke-width="0.8"/>
<rect x="433.8" y="326.8" width="11.98" height="12.63" fill="#1764ab"/>
<rect x="447.38" y="326.8" width="11.98" height="12.63" fill="#1764ab"/>
<rect x="471.6" y="326.8" width="11.98" height="12.63" fill="#73c476"/>
<rect x="485.18" y="326.8" width="11.98" height="12.63" fill="#73c476"/>
<rect x="498.76" y="326.8" width="11.98" height="12.63" fill="#73c476"/>
<rect x="512.34" y="326.8" width="11.98" height="12.63" fill="#73c476"/>
<rect x="525.92" y="326.8" width="11.98" height="12.63" fill="#73c476"/>
<rect x="550.4" y="326.8" width="11.98" height="12.63" fill="#f7fbff"/>
<rect x="563.98" y="326.8" width="11.98" height="12.63" fill="#f7fbff"/>
<text x="428.4" y="336.17" text-anchor="end" font-size="10" class="t" textLength="79.65" lengthAdjust="spacingAndGlyphs">ACR/EULAR GCA</text>
<line x1="430.7" y1="333.12" x2="433" y2="333.12" stroke="#6a6a6a" stroke-width="0.8"/>
<rect x="587.5" y="327.32" width="13.6" height="11.7" fill="#a3a0c2"/>
<line x1="585" y1="333.12" x2="587.5" y2="333.12" stroke="#6a6a6a" stroke-width="0.8"/>
<rect x="433.8" y="341.03" width="11.98" height="12.63" fill="#6aaed6"/>
<rect x="447.38" y="341.03" width="11.98" height="12.63" fill="#1764ab"/>
<rect x="471.6" y="341.03" width="11.98" height="12.63" fill="#73c476"/>
<rect x="485.18" y="341.03" width="11.98" height="12.63" fill="#73c476"/>
<rect x="498.76" y="341.03" width="11.98" height="12.63" fill="#73c476"/>
<rect x="512.34" y="341.03" width="11.98" height="12.63" fill="#73c476"/>
<rect x="525.92" y="341.03" width="11.98" height="12.63" fill="#73c476"/>
<rect x="550.4" y="341.03" width="11.98" height="12.63" fill="#f7fbff"/>
<rect x="563.98" y="341.03" width="11.98" height="12.63" fill="#f7fbff"/>
<text x="428.4" y="350.4" text-anchor="end" font-size="10" class="t" textLength="100.08" lengthAdjust="spacingAndGlyphs">OAA Repair Mortality</text>
<line x1="430.7" y1="347.35" x2="433" y2="347.35" stroke="#6a6a6a" stroke-width="0.8"/>
<rect x="587.5" y="341.55" width="13.2" height="11.7" fill="#a3a0c2"/>
<line x1="585" y1="347.35" x2="587.5" y2="347.35" stroke="#6a6a6a" stroke-width="0.8"/>
<rect x="433.8" y="355.27" width="11.98" height="12.63" fill="#1764ab"/>
<rect x="447.38" y="355.27" width="11.98" height="12.63" fill="#1764ab"/>
<rect x="471.6" y="355.27" width="11.98" height="12.63" fill="#73c476"/>
<rect x="485.18" y="355.27" width="11.98" height="12.63" fill="#73c476"/>
<rect x="498.76" y="355.27" width="11.98" height="12.63" fill="#73c476"/>
<rect x="512.34" y="355.27" width="11.98" height="12.63" fill="#73c476"/>
<rect x="525.92" y="355.27" width="11.98" height="12.63" fill="#73c476"/>
<rect x="550.4" y="355.27" width="11.98" height="12.63" fill="#f7fbff"/>
<rect x="563.98" y="355.27" width="11.98" height="12.63" fill="#f7fbff"/>
<text x="428.4" y="364.63" text-anchor="end" font-size="10" class="t" textLength="104.47" lengthAdjust="spacingAndGlyphs">Trial Prognostic Score</text>
<line x1="430.7" y1="361.58" x2="433" y2="361.58" stroke="#6a6a6a" stroke-width="0.8"/>
<rect x="587.5" y="355.78" width="12.5" height="11.7" fill="#a3a0c2"/>
<line x1="585" y1="361.58" x2="587.5" y2="361.58" stroke="#6a6a6a" stroke-width="0.8"/>
<rect x="433.8" y="369.5" width="11.98" height="12.63" fill="#6aaed6"/>
<rect x="447.38" y="369.5" width="11.98" height="12.63" fill="#1764ab"/>
<rect x="471.6" y="369.5" width="11.98" height="12.63" fill="#73c476"/>
<rect x="485.18" y="369.5" width="11.98" height="12.63" fill="#73c476"/>
<rect x="498.76" y="369.5" width="11.98" height="12.63" fill="#73c476"/>
<rect x="512.34" y="369.5" width="11.98" height="12.63" fill="#73c476"/>
<rect x="525.92" y="369.5" width="11.98" height="12.63" fill="#73c476"/>
<rect x="550.4" y="369.5" width="11.98" height="12.63" fill="#f7fbff"/>
<rect x="563.98" y="369.5" width="11.98" height="12.63" fill="#f7fbff"/>
<text x="428.4" y="378.86" text-anchor="end" font-size="10" class="t" textLength="18.2" lengthAdjust="spacingAndGlyphs">PTB</text>
<line x1="430.7" y1="375.81" x2="433" y2="375.81" stroke="#6a6a6a" stroke-width="0.8"/>
<rect x="587.5" y="370.01" width="11.4" height="11.7" fill="#a3a0c2"/>
<line x1="585" y1="375.81" x2="587.5" y2="375.81" stroke="#6a6a6a" stroke-width="0.8"/>
<rect x="433.8" y="383.73" width="11.98" height="12.63" fill="#1764ab"/>
<rect x="447.38" y="383.73" width="11.98" height="12.63" fill="#6aaed6"/>
<rect x="471.6" y="383.73" width="11.98" height="12.63" fill="#73c476"/>
<rect x="485.18" y="383.73" width="11.98" height="12.63" fill="#73c476"/>
<rect x="498.76" y="383.73" width="11.98" height="12.63" fill="#bc141a"/>
<rect x="512.34" y="383.73" width="11.98" height="12.63" fill="#73c476"/>
<rect x="525.92" y="383.73" width="11.98" height="12.63" fill="#73c476"/>
<rect x="550.4" y="383.73" width="11.98" height="12.63" fill="#f7fbff"/>
<rect x="563.98" y="383.73" width="11.98" height="12.63" fill="#f7fbff"/>
<text x="428.4" y="393.1" text-anchor="end" font-size="10" class="t" textLength="82.72" lengthAdjust="spacingAndGlyphs">Colitis Risk Score</text>
<line x1="430.7" y1="390.05" x2="433" y2="390.05" stroke="#6a6a6a" stroke-width="0.8"/>
<rect x="587.5" y="384.25" width="11.4" height="11.7" fill="#a3a0c2"/>
<line x1="585" y1="390.05" x2="587.5" y2="390.05" stroke="#6a6a6a" stroke-width="0.8"/>
<rect x="433.8" y="397.96" width="11.98" height="12.63" fill="#1764ab"/>
<rect x="447.38" y="397.96" width="11.98" height="12.63" fill="#1764ab"/>
<rect x="471.6" y="397.96" width="11.98" height="12.63" fill="#73c476"/>
<rect x="485.18" y="397.96" width="11.98" height="12.63" fill="#73c476"/>
<rect x="498.76" y="397.96" width="11.98" height="12.63" fill="#73c476"/>
<rect x="512.34" y="397.96" width="11.98" height="12.63" fill="#73c476"/>
<rect x="525.92" y="397.96" width="11.98" height="12.63" fill="#73c476"/>
<rect x="550.4" y="397.96" width="11.98" height="12.63" fill="#f7fbff"/>
<rect x="563.98" y="397.96" width="11.98" height="12.63" fill="#f7fbff"/>
<text x="428.4" y="407.33" text-anchor="end" font-size="10" class="t" textLength="86.59" lengthAdjust="spacingAndGlyphs">Pretreatment Risk</text>
<line x1="430.7" y1="404.28" x2="433" y2="404.28" stroke="#6a6a6a" stroke-width="0.8"/>
<rect x="587.5" y="398.48" width="10.4" height="11.7" fill="#a3a0c2"/>
<line x1="585" y1="404.28" x2="587.5" y2="404.28" stroke="#6a6a6a" stroke-width="0.8"/>
<rect x="433.8" y="412.19" width="11.98" height="12.63" fill="#1764ab"/>
<rect x="447.38" y="412.19" width="11.98" height="12.63" fill="#1764ab"/>
<rect x="471.6" y="412.19" width="11.98" height="12.63" fill="#73c476"/>
<rect x="485.18" y="412.19" width="11.98" height="12.63" fill="#73c476"/>
<rect x="498.76" y="412.19" width="11.98" height="12.63" fill="#73c476"/>
<rect x="512.34" y="412.19" width="11.98" height="12.63" fill="#73c476"/>
<rect x="525.92" y="412.19" width="11.98" height="12.63" fill="#73c476"/>
<rect x="550.4" y="412.19" width="11.98" height="12.63" fill="#f7fbff"/>
<rect x="563.98" y="412.19" width="11.98" height="12.63" fill="#f7fbff"/>
<text x="428.4" y="421.56" text-anchor="end" font-size="10" class="t" textLength="86.71" lengthAdjust="spacingAndGlyphs">Colon Cancer Risk</text>
<line x1="430.7" y1="418.51" x2="433" y2="418.51" stroke="#6a6a6a" stroke-width="0.8"/>
<rect x="587.5" y="412.71" width="10.4" height="11.7" fill="#a3a0c2"/>
<line x1="585" y1="418.51" x2="587.5" y2="418.51" stroke="#6a6a6a" stroke-width="0.8"/>
<rect x="433.8" y="426.43" width="11.98" height="12.63" fill="#1764ab"/>
<rect x="447.38" y="426.43" width="11.98" height="12.63" fill="#1764ab"/>
<rect x="471.6" y="426.43" width="11.98" height="12.63" fill="#73c476"/>
<rect x="485.18" y="426.43" width="11.98" height="12.63" fill="#73c476"/>
<rect x="498.76" y="426.43" width="11.98" height="12.63" fill="#73c476"/>
<rect x="512.34" y="426.43" width="11.98" height="12.63" fill="#73c476"/>
<rect x="525.92" y="426.43" width="11.98" height="12.63" fill="#73c476"/>
<rect x="550.4" y="426.43" width="11.98" height="12.63" fill="#f7fbff"/>
<rect x="563.98" y="426.43" width="11.98" height="12.63" fill="#f7fbff"/>
<text x="428.4" y="435.79" text-anchor="end" font-size="10" class="t" textLength="22.84" lengthAdjust="spacingAndGlyphs">SIPS</text>
<line x1="430.7" y1="432.74" x2="433" y2="432.74" stroke="#6a6a6a" stroke-width="0.8"/>
<rect x="587.5" y="426.94" width="9.5" height="11.7" fill="#a3a0c2"/>
<line x1="585" y1="432.74" x2="587.5" y2="432.74" stroke="#6a6a6a" stroke-width="0.8"/>
<rect x="433.8" y="440.66" width="11.98" height="12.63" fill="#1764ab"/>
<rect x="447.38" y="440.66" width="11.98" height="12.63" fill="#1764ab"/>
<rect x="471.6" y="440.66" width="11.98" height="12.63" fill="#73c476"/>
<rect x="485.18" y="440.66" width="11.98" height="12.63" fill="#73c476"/>
<rect x="498.76" y="440.66" width="11.98" height="12.63" fill="#73c476"/>
<rect x="512.34" y="440.66" width="11.98" height="12.63" fill="#73c476"/>
<rect x="525.92" y="440.66" width="11.98" height="12.63" fill="#73c476"/>
<rect x="550.4" y="440.66" width="11.98" height="12.63" fill="#f7fbff"/>
<rect x="563.98" y="440.66" width="11.98" height="12.63" fill="#f7fbff"/>
<text x="428.4" y="450.02" text-anchor="end" font-size="10" class="t" textLength="121.23" lengthAdjust="spacingAndGlyphs">Transplantation Outcome</text>
<line x1="430.7" y1="446.97" x2="433" y2="446.97" stroke="#6a6a6a" stroke-width="0.8"/>
<rect x="587.5" y="441.17" width="9.1" height="11.7" fill="#a3a0c2"/>
<line x1="585" y1="446.97" x2="587.5" y2="446.97" stroke="#6a6a6a" stroke-width="0.8"/>
<rect x="433.8" y="454.89" width="11.98" height="12.63" fill="#1764ab"/>
<rect x="447.38" y="454.89" width="11.98" height="12.63" fill="#1764ab"/>
<rect x="471.6" y="454.89" width="11.98" height="12.63" fill="#1764ab"/>
<rect x="485.18" y="454.89" width="11.98" height="12.63" fill="#1764ab"/>
<rect x="498.76" y="454.89" width="11.98" height="12.63" fill="#1764ab"/>
<rect x="512.34" y="454.89" width="11.98" height="12.63" fill="#1764ab"/>
<rect x="525.92" y="454.89" width="11.98" height="12.63" fill="#1764ab"/>
<rect x="550.4" y="454.89" width="11.98" height="12.63" fill="#1764ab"/>
<rect x="563.98" y="454.89" width="11.98" height="12.63" fill="#1764ab"/>
<text x="428.4" y="464.26" text-anchor="end" font-size="10" class="t" textLength="26" lengthAdjust="spacingAndGlyphs">HAPS</text>
<line x1="430.7" y1="461.21" x2="433" y2="461.21" stroke="#6a6a6a" stroke-width="0.8"/>
<rect x="587.5" y="455.41" width="7.5" height="11.7" fill="#a3a0c2"/>
<line x1="585" y1="461.21" x2="587.5" y2="461.21" stroke="#6a6a6a" stroke-width="0.8"/>
<rect x="433.8" y="469.12" width="11.98" height="12.63" fill="#1764ab"/>
<rect x="447.38" y="469.12" width="11.98" height="12.63" fill="#1764ab"/>
<rect x="471.6" y="469.12" width="11.98" height="12.63" fill="#73c476"/>
<rect x="485.18" y="469.12" width="11.98" height="12.63" fill="#73c476"/>
<rect x="498.76" y="469.12" width="11.98" height="12.63" fill="#73c476"/>
<rect x="512.34" y="469.12" width="11.98" height="12.63" fill="#73c476"/>
<rect x="525.92" y="469.12" width="11.98" height="12.63" fill="#73c476"/>
<rect x="550.4" y="469.12" width="11.98" height="12.63" fill="#f7fbff"/>
<rect x="563.98" y="469.12" width="11.98" height="12.63" fill="#f7fbff"/>
<text x="428.4" y="478.49" text-anchor="end" font-size="10" class="t" textLength="60.61" lengthAdjust="spacingAndGlyphs">Cr/Alb Score</text>
<line x1="430.7" y1="475.44" x2="433" y2="475.44" stroke="#6a6a6a" stroke-width="0.8"/>
<rect x="587.5" y="469.64" width="6.6" height="11.7" fill="#a3a0c2"/>
<line x1="585" y1="475.44" x2="587.5" y2="475.44" stroke="#6a6a6a" stroke-width="0.8"/>
<rect x="433.8" y="483.35" width="11.98" height="12.63" fill="#1764ab"/>
<rect x="447.38" y="483.35" width="11.98" height="12.63" fill="#1764ab"/>
<rect x="471.6" y="483.35" width="11.98" height="12.63" fill="#73c476"/>
<rect x="485.18" y="483.35" width="11.98" height="12.63" fill="#73c476"/>
<rect x="498.76" y="483.35" width="11.98" height="12.63" fill="#73c476"/>
<rect x="512.34" y="483.35" width="11.98" height="12.63" fill="#73c476"/>
<rect x="525.92" y="483.35" width="11.98" height="12.63" fill="#73c476"/>
<rect x="550.4" y="483.35" width="11.98" height="12.63" fill="#f7fbff"/>
<rect x="563.98" y="483.35" width="11.98" height="12.63" fill="#f7fbff"/>
<text x="428.4" y="492.72" text-anchor="end" font-size="10" class="t" textLength="94.17" lengthAdjust="spacingAndGlyphs">Hypogonadism Risk</text>
<line x1="430.7" y1="489.67" x2="433" y2="489.67" stroke="#6a6a6a" stroke-width="0.8"/>
<rect x="587.5" y="483.87" width="6.2" height="11.7" fill="#a3a0c2"/>
<line x1="585" y1="489.67" x2="587.5" y2="489.67" stroke="#6a6a6a" stroke-width="0.8"/>
<rect x="433.8" y="497.59" width="11.98" height="12.63" fill="#1764ab"/>
<rect x="447.38" y="497.59" width="11.98" height="12.63" fill="#1764ab"/>
<rect x="471.6" y="497.59" width="11.98" height="12.63" fill="#73c476"/>
<rect x="485.18" y="497.59" width="11.98" height="12.63" fill="#73c476"/>
<rect x="498.76" y="497.59" width="11.98" height="12.63" fill="#73c476"/>
<rect x="512.34" y="497.59" width="11.98" height="12.63" fill="#73c476"/>
<rect x="525.92" y="497.59" width="11.98" height="12.63" fill="#73c476"/>
<rect x="550.4" y="497.59" width="11.98" height="12.63" fill="#f7fbff"/>
<rect x="563.98" y="497.59" width="11.98" height="12.63" fill="#f7fbff"/>
<text x="428.4" y="506.95" text-anchor="end" font-size="10" class="t" textLength="92.94" lengthAdjust="spacingAndGlyphs">5MPB-Toledo Score</text>
<line x1="430.7" y1="503.9" x2="433" y2="503.9" stroke="#6a6a6a" stroke-width="0.8"/>
<rect x="587.5" y="498.1" width="6.2" height="11.7" fill="#a3a0c2"/>
<line x1="585" y1="503.9" x2="587.5" y2="503.9" stroke="#6a6a6a" stroke-width="0.8"/>
<rect x="433.8" y="511.82" width="11.98" height="12.63" fill="#6aaed6"/>
<rect x="447.38" y="511.82" width="11.98" height="12.63" fill="#1764ab"/>
<rect x="471.6" y="511.82" width="11.98" height="12.63" fill="#73c476"/>
<rect x="485.18" y="511.82" width="11.98" height="12.63" fill="#73c476"/>
<rect x="498.76" y="511.82" width="11.98" height="12.63" fill="#73c476"/>
<rect x="512.34" y="511.82" width="11.98" height="12.63" fill="#73c476"/>
<rect x="525.92" y="511.82" width="11.98" height="12.63" fill="#73c476"/>
<rect x="550.4" y="511.82" width="11.98" height="12.63" fill="#f7fbff"/>
<rect x="563.98" y="511.82" width="11.98" height="12.63" fill="#f7fbff"/>
<text x="428.4" y="521.18" text-anchor="end" font-size="10" class="t" textLength="26.56" lengthAdjust="spacingAndGlyphs">ADHF</text>
<line x1="430.7" y1="518.13" x2="433" y2="518.13" stroke="#6a6a6a" stroke-width="0.8"/>
<rect x="587.5" y="512.33" width="6.2" height="11.7" fill="#a3a0c2"/>
<line x1="585" y1="518.13" x2="587.5" y2="518.13" stroke="#6a6a6a" stroke-width="0.8"/>
<rect x="433.8" y="526.05" width="11.98" height="12.63" fill="#1764ab"/>
<rect x="447.38" y="526.05" width="11.98" height="12.63" fill="#1764ab"/>
<rect x="471.6" y="526.05" width="11.98" height="12.63" fill="#73c476"/>
<rect x="485.18" y="526.05" width="11.98" height="12.63" fill="#73c476"/>
<rect x="498.76" y="526.05" width="11.98" height="12.63" fill="#73c476"/>
<rect x="512.34" y="526.05" width="11.98" height="12.63" fill="#73c476"/>
<rect x="525.92" y="526.05" width="11.98" height="12.63" fill="#73c476"/>
<rect x="550.4" y="526.05" width="11.98" height="12.63" fill="#f7fbff"/>
<rect x="563.98" y="526.05" width="11.98" height="12.63" fill="#f7fbff"/>
<text x="428.4" y="535.42" text-anchor="end" font-size="10" class="t" textLength="21.22" lengthAdjust="spacingAndGlyphs">MRS</text>
<line x1="430.7" y1="532.37" x2="433" y2="532.37" stroke="#6a6a6a" stroke-width="0.8"/>
<rect x="587.5" y="526.57" width="4.8" height="11.7" fill="#a3a0c2"/>
<line x1="585" y1="532.37" x2="587.5" y2="532.37" stroke="#6a6a6a" stroke-width="0.8"/>
<rect x="433.8" y="540.28" width="11.98" height="12.63" fill="#1764ab"/>
<rect x="447.38" y="540.28" width="11.98" height="12.63" fill="#1764ab"/>
<rect x="471.6" y="540.28" width="11.98" height="12.63" fill="#73c476"/>
<rect x="485.18" y="540.28" width="11.98" height="12.63" fill="#73c476"/>
<rect x="498.76" y="540.28" width="11.98" height="12.63" fill="#73c476"/>
<rect x="512.34" y="540.28" width="11.98" height="12.63" fill="#73c476"/>
<rect x="525.92" y="540.28" width="11.98" height="12.63" fill="#73c476"/>
<rect x="550.4" y="540.28" width="11.98" height="12.63" fill="#f7fbff"/>
<rect x="563.98" y="540.28" width="11.98" height="12.63" fill="#f7fbff"/>
<text x="428.4" y="549.65" text-anchor="end" font-size="10" class="t" textLength="93.36" lengthAdjust="spacingAndGlyphs">Reintervention Risk</text>
<line x1="430.7" y1="546.6" x2="433" y2="546.6" stroke="#6a6a6a" stroke-width="0.8"/>
<rect x="587.5" y="540.8" width="4.4" height="11.7" fill="#a3a0c2"/>
<line x1="585" y1="546.6" x2="587.5" y2="546.6" stroke="#6a6a6a" stroke-width="0.8"/>
<rect x="433.8" y="554.51" width="11.98" height="12.63" fill="#1764ab"/>
<rect x="447.38" y="554.51" width="11.98" height="12.63" fill="#1764ab"/>
<rect x="471.6" y="554.51" width="11.98" height="12.63" fill="#73c476"/>
<rect x="485.18" y="554.51" width="11.98" height="12.63" fill="#73c476"/>
<rect x="498.76" y="554.51" width="11.98" height="12.63" fill="#73c476"/>
<rect x="512.34" y="554.51" width="11.98" height="12.63" fill="#73c476"/>
<rect x="525.92" y="554.51" width="11.98" height="12.63" fill="#73c476"/>
<rect x="550.4" y="554.51" width="11.98" height="12.63" fill="#f7fbff"/>
<rect x="563.98" y="554.51" width="11.98" height="12.63" fill="#f7fbff"/>
<text x="428.4" y="563.88" text-anchor="end" font-size="10" class="t" textLength="19.72" lengthAdjust="spacingAndGlyphs">BRS</text>
<line x1="430.7" y1="560.83" x2="433" y2="560.83" stroke="#6a6a6a" stroke-width="0.8"/>
<rect x="587.5" y="555.03" width="4.4" height="11.7" fill="#a3a0c2"/>
<line x1="585" y1="560.83" x2="587.5" y2="560.83" stroke="#6a6a6a" stroke-width="0.8"/>
<rect x="433.8" y="568.75" width="11.98" height="12.63" fill="#1764ab"/>
<rect x="447.38" y="568.75" width="11.98" height="12.63" fill="#1764ab"/>
<rect x="471.6" y="568.75" width="11.98" height="12.63" fill="#73c476"/>
<rect x="485.18" y="568.75" width="11.98" height="12.63" fill="#73c476"/>
<rect x="498.76" y="568.75" width="11.98" height="12.63" fill="#73c476"/>
<rect x="512.34" y="568.75" width="11.98" height="12.63" fill="#73c476"/>
<rect x="525.92" y="568.75" width="11.98" height="12.63" fill="#73c476"/>
<rect x="550.4" y="568.75" width="11.98" height="12.63" fill="#f7fbff"/>
<rect x="563.98" y="568.75" width="11.98" height="12.63" fill="#f7fbff"/>
<text x="428.4" y="578.11" text-anchor="end" font-size="10" class="t" textLength="43.74" lengthAdjust="spacingAndGlyphs">HCC Risk</text>
<line x1="430.7" y1="575.06" x2="433" y2="575.06" stroke="#6a6a6a" stroke-width="0.8"/>
<rect x="587.5" y="569.26" width="3.8" height="11.7" fill="#a3a0c2"/>
<line x1="585" y1="575.06" x2="587.5" y2="575.06" stroke="#6a6a6a" stroke-width="0.8"/>
<rect x="433.8" y="582.98" width="11.98" height="12.63" fill="#1764ab"/>
<rect x="447.38" y="582.98" width="11.98" height="12.63" fill="#6aaed6"/>
<rect x="471.6" y="582.98" width="11.98" height="12.63" fill="#bc141a"/>
<rect x="485.18" y="582.98" width="11.98" height="12.63" fill="#bc141a"/>
<rect x="498.76" y="582.98" width="11.98" height="12.63" fill="#bc141a"/>
<rect x="512.34" y="582.98" width="11.98" height="12.63" fill="#bc141a"/>
<rect x="525.92" y="582.98" width="11.98" height="12.63" fill="#bc141a"/>
<rect x="550.4" y="582.98" width="11.98" height="12.63" fill="#f7fbff"/>
<rect x="563.98" y="582.98" width="11.98" height="12.63" fill="#f7fbff"/>
<text x="428.4" y="592.34" text-anchor="end" font-size="10" class="t" textLength="89.02" lengthAdjust="spacingAndGlyphs">Vasopressor Score</text>
<line x1="430.7" y1="589.29" x2="433" y2="589.29" stroke="#6a6a6a" stroke-width="0.8"/>
<rect x="587.5" y="583.49" width="3.3" height="11.7" fill="#a3a0c2"/>
<line x1="585" y1="589.29" x2="587.5" y2="589.29" stroke="#6a6a6a" stroke-width="0.8"/>
<rect x="433.8" y="597.21" width="11.98" height="12.63" fill="#1764ab"/>
<rect x="447.38" y="597.21" width="11.98" height="12.63" fill="#1764ab"/>
<rect x="471.6" y="597.21" width="11.98" height="12.63" fill="#73c476"/>
<rect x="485.18" y="597.21" width="11.98" height="12.63" fill="#73c476"/>
<rect x="498.76" y="597.21" width="11.98" height="12.63" fill="#73c476"/>
<rect x="512.34" y="597.21" width="11.98" height="12.63" fill="#73c476"/>
<rect x="525.92" y="597.21" width="11.98" height="12.63" fill="#73c476"/>
<rect x="550.4" y="597.21" width="11.98" height="12.63" fill="#f7fbff"/>
<rect x="563.98" y="597.21" width="11.98" height="12.63" fill="#f7fbff"/>
<text x="428.4" y="606.58" text-anchor="end" font-size="10" class="t" textLength="50.67" lengthAdjust="spacingAndGlyphs">SEA-MAKE</text>
<line x1="430.7" y1="603.53" x2="433" y2="603.53" stroke="#6a6a6a" stroke-width="0.8"/>
<rect x="587.5" y="597.73" width="3.3" height="11.7" fill="#a3a0c2"/>
<line x1="585" y1="603.53" x2="587.5" y2="603.53" stroke="#6a6a6a" stroke-width="0.8"/>
<rect x="433.8" y="611.44" width="11.98" height="12.63" fill="#1764ab"/>
<rect x="447.38" y="611.44" width="11.98" height="12.63" fill="#1764ab"/>
<rect x="471.6" y="611.44" width="11.98" height="12.63" fill="#73c476"/>
<rect x="485.18" y="611.44" width="11.98" height="12.63" fill="#73c476"/>
<rect x="498.76" y="611.44" width="11.98" height="12.63" fill="#73c476"/>
<rect x="512.34" y="611.44" width="11.98" height="12.63" fill="#73c476"/>
<rect x="525.92" y="611.44" width="11.98" height="12.63" fill="#73c476"/>
<rect x="550.4" y="611.44" width="11.98" height="12.63" fill="#f7fbff"/>
<rect x="563.98" y="611.44" width="11.98" height="12.63" fill="#f7fbff"/>
<text x="428.4" y="620.81" text-anchor="end" font-size="10" class="t" textLength="88.51" lengthAdjust="spacingAndGlyphs">Postoperative Risk</text>
<line x1="430.7" y1="617.76" x2="433" y2="617.76" stroke="#6a6a6a" stroke-width="0.8"/>
<rect x="587.5" y="611.96" width="2.6" height="11.7" fill="#a3a0c2"/>
<line x1="585" y1="617.76" x2="587.5" y2="617.76" stroke="#6a6a6a" stroke-width="0.8"/>
<rect x="433.8" y="625.67" width="11.98" height="12.63" fill="#1764ab"/>
<rect x="447.38" y="625.67" width="11.98" height="12.63" fill="#1764ab"/>
<rect x="471.6" y="625.67" width="11.98" height="12.63" fill="#73c476"/>
<rect x="485.18" y="625.67" width="11.98" height="12.63" fill="#73c476"/>
<rect x="498.76" y="625.67" width="11.98" height="12.63" fill="#73c476"/>
<rect x="512.34" y="625.67" width="11.98" height="12.63" fill="#73c476"/>
<rect x="525.92" y="625.67" width="11.98" height="12.63" fill="#73c476"/>
<rect x="550.4" y="625.67" width="11.98" height="12.63" fill="#f7fbff"/>
<rect x="563.98" y="625.67" width="11.98" height="12.63" fill="#f7fbff"/>
<text x="428.4" y="635.04" text-anchor="end" font-size="10" class="t" textLength="19.37" lengthAdjust="spacingAndGlyphs">LOS</text>
<line x1="430.7" y1="631.99" x2="433" y2="631.99" stroke="#6a6a6a" stroke-width="0.8"/>
<rect x="587.5" y="626.19" width="2.6" height="11.7" fill="#a3a0c2"/>
<line x1="585" y1="631.99" x2="587.5" y2="631.99" stroke="#6a6a6a" stroke-width="0.8"/>
<rect x="433.8" y="639.91" width="11.98" height="12.63" fill="#bc141a"/>
<rect x="447.38" y="639.91" width="11.98" height="12.63" fill="#bc141a"/>
<rect x="471.6" y="639.91" width="11.98" height="12.63" fill="#73c476"/>
<rect x="485.18" y="639.91" width="11.98" height="12.63" fill="#73c476"/>
<rect x="498.76" y="639.91" width="11.98" height="12.63" fill="#73c476"/>
<rect x="512.34" y="639.91" width="11.98" height="12.63" fill="#73c476"/>
<rect x="525.92" y="639.91" width="11.98" height="12.63" fill="#73c476"/>
<rect x="550.4" y="639.91" width="11.98" height="12.63" fill="#f7fbff"/>
<rect x="563.98" y="639.91" width="11.98" height="12.63" fill="#f7fbff"/>
<text x="428.4" y="649.27" text-anchor="end" font-size="10" class="t" textLength="72.75" lengthAdjust="spacingAndGlyphs">IRG Risk Model</text>
<line x1="430.7" y1="646.22" x2="433" y2="646.22" stroke="#6a6a6a" stroke-width="0.8"/>
<rect x="587.5" y="640.42" width="1.4" height="11.7" fill="#a3a0c2"/>
<line x1="585" y1="646.22" x2="587.5" y2="646.22" stroke="#6a6a6a" stroke-width="0.8"/>
<rect x="433.8" y="654.14" width="11.98" height="12.63" fill="#1764ab"/>
<rect x="447.38" y="654.14" width="11.98" height="12.63" fill="#1764ab"/>
<rect x="471.6" y="654.14" width="11.98" height="12.63" fill="#73c476"/>
<rect x="485.18" y="654.14" width="11.98" height="12.63" fill="#73c476"/>
<rect x="498.76" y="654.14" width="11.98" height="12.63" fill="#73c476"/>
<rect x="512.34" y="654.14" width="11.98" height="12.63" fill="#73c476"/>
<rect x="525.92" y="654.14" width="11.98" height="12.63" fill="#73c476"/>
<rect x="550.4" y="654.14" width="11.98" height="12.63" fill="#f7fbff"/>
<rect x="563.98" y="654.14" width="11.98" height="12.63" fill="#f7fbff"/>
<text x="428.4" y="663.5" text-anchor="end" font-size="10" class="t" textLength="43.74" lengthAdjust="spacingAndGlyphs">CHC Risk</text>
<line x1="430.7" y1="660.45" x2="433" y2="660.45" stroke="#6a6a6a" stroke-width="0.8"/>
<rect x="587.5" y="654.65" width="1.4" height="11.7" fill="#a3a0c2"/>
<line x1="585" y1="660.45" x2="587.5" y2="660.45" stroke="#6a6a6a" stroke-width="0.8"/>
<rect x="433.8" y="668.37" width="11.98" height="12.63" fill="#1764ab"/>
<rect x="447.38" y="668.37" width="11.98" height="12.63" fill="#1764ab"/>
<rect x="471.6" y="668.37" width="11.98" height="12.63" fill="#73c476"/>
<rect x="485.18" y="668.37" width="11.98" height="12.63" fill="#73c476"/>
<rect x="498.76" y="668.37" width="11.98" height="12.63" fill="#73c476"/>
<rect x="512.34" y="668.37" width="11.98" height="12.63" fill="#73c476"/>
<rect x="525.92" y="668.37" width="11.98" height="12.63" fill="#73c476"/>
<rect x="550.4" y="668.37" width="11.98" height="12.63" fill="#f7fbff"/>
<rect x="563.98" y="668.37" width="11.98" height="12.63" fill="#f7fbff"/>
<text x="428.4" y="677.74" text-anchor="end" font-size="10" class="t" textLength="19.74" lengthAdjust="spacingAndGlyphs">SHE</text>
<line x1="430.7" y1="674.69" x2="433" y2="674.69" stroke="#6a6a6a" stroke-width="0.8"/>
<rect x="587.5" y="668.89" width="0.7" height="11.7" fill="#a3a0c2"/>
<line x1="585" y1="674.69" x2="587.5" y2="674.69" stroke="#6a6a6a" stroke-width="0.8"/>
<rect x="433.8" y="682.6" width="11.98" height="12.63" fill="#1764ab"/>
<rect x="447.38" y="682.6" width="11.98" height="12.63" fill="#1764ab"/>
<rect x="471.6" y="682.6" width="11.98" height="12.63" fill="#73c476"/>
<rect x="485.18" y="682.6" width="11.98" height="12.63" fill="#73c476"/>
<rect x="498.76" y="682.6" width="11.98" height="12.63" fill="#73c476"/>
<rect x="512.34" y="682.6" width="11.98" height="12.63" fill="#73c476"/>
<rect x="525.92" y="682.6" width="11.98" height="12.63" fill="#73c476"/>
<rect x="550.4" y="682.6" width="11.98" height="12.63" fill="#f7fbff"/>
<rect x="563.98" y="682.6" width="11.98" height="12.63" fill="#f7fbff"/>
<text x="428.4" y="691.97" text-anchor="end" font-size="10" class="t" textLength="86.4" lengthAdjust="spacingAndGlyphs">Older-STEMI-CMR</text>
<line x1="430.7" y1="688.92" x2="433" y2="688.92" stroke="#6a6a6a" stroke-width="0.8"/>
<rect x="587.5" y="683.12" width="0.7" height="11.7" fill="#a3a0c2"/>
<line x1="585" y1="688.92" x2="587.5" y2="688.92" stroke="#6a6a6a" stroke-width="0.8"/>
<rect x="433.8" y="696.83" width="11.98" height="12.63" fill="#1764ab"/>
<rect x="447.38" y="696.83" width="11.98" height="12.63" fill="#1764ab"/>
<rect x="471.6" y="696.83" width="11.98" height="12.63" fill="#73c476"/>
<rect x="485.18" y="696.83" width="11.98" height="12.63" fill="#73c476"/>
<rect x="498.76" y="696.83" width="11.98" height="12.63" fill="#73c476"/>
<rect x="512.34" y="696.83" width="11.98" height="12.63" fill="#73c476"/>
<rect x="525.92" y="696.83" width="11.98" height="12.63" fill="#73c476"/>
<rect x="550.4" y="696.83" width="11.98" height="12.63" fill="#f7fbff"/>
<rect x="563.98" y="696.83" width="11.98" height="12.63" fill="#f7fbff"/>
<text x="428.4" y="706.2" text-anchor="end" font-size="10" class="t" textLength="19.8" lengthAdjust="spacingAndGlyphs">RRS</text>
<line x1="430.7" y1="703.15" x2="433" y2="703.15" stroke="#6a6a6a" stroke-width="0.8"/>
<rect x="587.5" y="697.35" width="0.7" height="11.7" fill="#a3a0c2"/>
<line x1="585" y1="703.15" x2="587.5" y2="703.15" stroke="#6a6a6a" stroke-width="0.8"/>
<rect x="433.8" y="711.07" width="11.98" height="12.63" fill="#1764ab"/>
<rect x="447.38" y="711.07" width="11.98" height="12.63" fill="#1764ab"/>
<rect x="471.6" y="711.07" width="11.98" height="12.63" fill="#73c476"/>
<rect x="485.18" y="711.07" width="11.98" height="12.63" fill="#73c476"/>
<rect x="498.76" y="711.07" width="11.98" height="12.63" fill="#73c476"/>
<rect x="512.34" y="711.07" width="11.98" height="12.63" fill="#73c476"/>
<rect x="525.92" y="711.07" width="11.98" height="12.63" fill="#73c476"/>
<rect x="550.4" y="711.07" width="11.98" height="12.63" fill="#f7fbff"/>
<rect x="563.98" y="711.07" width="11.98" height="12.63" fill="#f7fbff"/>
<text x="428.4" y="720.43" text-anchor="end" font-size="10" class="t" textLength="68.83" lengthAdjust="spacingAndGlyphs">AML-MRC Risk</text>
<line x1="430.7" y1="717.38" x2="433" y2="717.38" stroke="#6a6a6a" stroke-width="0.8"/>
<rect x="587.5" y="711.58" width="0.7" height="11.7" fill="#a3a0c2"/>
<line x1="585" y1="717.38" x2="587.5" y2="717.38" stroke="#6a6a6a" stroke-width="0.8"/>
<rect x="433.8" y="725.3" width="11.98" height="12.63" fill="#1764ab"/>
<rect x="447.38" y="725.3" width="11.98" height="12.63" fill="#1764ab"/>
<rect x="471.6" y="725.3" width="11.98" height="12.63" fill="#73c476"/>
<rect x="485.18" y="725.3" width="11.98" height="12.63" fill="#73c476"/>
<rect x="498.76" y="725.3" width="11.98" height="12.63" fill="#73c476"/>
<rect x="512.34" y="725.3" width="11.98" height="12.63" fill="#73c476"/>
<rect x="525.92" y="725.3" width="11.98" height="12.63" fill="#73c476"/>
<rect x="550.4" y="725.3" width="11.98" height="12.63" fill="#f7fbff"/>
<rect x="563.98" y="725.3" width="11.98" height="12.63" fill="#f7fbff"/>
<text x="428.4" y="734.66" text-anchor="end" font-size="10" class="t" textLength="70.09" lengthAdjust="spacingAndGlyphs">Alcohol Misuse</text>
<line x1="430.7" y1="731.61" x2="433" y2="731.61" stroke="#6a6a6a" stroke-width="0.8"/>
<line x1="585" y1="731.61" x2="587.5" y2="731.61" stroke="#6a6a6a" stroke-width="0.8"/>
<rect x="433.8" y="739.53" width="11.98" height="12.63" fill="#1764ab"/>
<rect x="447.38" y="739.53" width="11.98" height="12.63" fill="#1764ab"/>
<rect x="471.6" y="739.53" width="11.98" height="12.63" fill="#73c476"/>
<rect x="485.18" y="739.53" width="11.98" height="12.63" fill="#73c476"/>
<rect x="498.76" y="739.53" width="11.98" height="12.63" fill="#73c476"/>
<rect x="512.34" y="739.53" width="11.98" height="12.63" fill="#73c476"/>
<rect x="525.92" y="739.53" width="11.98" height="12.63" fill="#73c476"/>
<rect x="550.4" y="739.53" width="11.98" height="12.63" fill="#f7fbff"/>
<rect x="563.98" y="739.53" width="11.98" height="12.63" fill="#f7fbff"/>
<text x="428.4" y="748.9" text-anchor="end" font-size="10" class="t" textLength="50.94" lengthAdjust="spacingAndGlyphs">LNM Score</text>
<line x1="430.7" y1="745.85" x2="433" y2="745.85" stroke="#6a6a6a" stroke-width="0.8"/>
<line x1="585" y1="745.85" x2="587.5" y2="745.85" stroke="#6a6a6a" stroke-width="0.8"/>
<rect x="433.8" y="753.76" width="11.98" height="12.63" fill="#1764ab"/>
<rect x="447.38" y="753.76" width="11.98" height="12.63" fill="#1764ab"/>
<rect x="471.6" y="753.76" width="11.98" height="12.63" fill="#73c476"/>
<rect x="485.18" y="753.76" width="11.98" height="12.63" fill="#73c476"/>
<rect x="498.76" y="753.76" width="11.98" height="12.63" fill="#73c476"/>
<rect x="512.34" y="753.76" width="11.98" height="12.63" fill="#73c476"/>
<rect x="525.92" y="753.76" width="11.98" height="12.63" fill="#73c476"/>
<rect x="550.4" y="753.76" width="11.98" height="12.63" fill="#f7fbff"/>
<rect x="563.98" y="753.76" width="11.98" height="12.63" fill="#f7fbff"/>
<text x="428.4" y="763.13" text-anchor="end" font-size="10" class="t" textLength="61.89" lengthAdjust="spacingAndGlyphs">PIV and PILE</text>
<line x1="430.7" y1="760.08" x2="433" y2="760.08" stroke="#6a6a6a" stroke-width="0.8"/>
<line x1="585" y1="760.08" x2="587.5" y2="760.08" stroke="#6a6a6a" stroke-width="0.8"/>
<line x1="439.79" y1="767.19" x2="439.79" y2="769.49" stroke="#6a6a6a" stroke-width="0.8"/>
<g transform="translate(438.54 777.29) rotate(-45)"><text x="0" y="0" text-anchor="end" font-size="10" class="t" textLength="24.66" lengthAdjust="spacingAndGlyphs">Logic</text></g>
<line x1="453.37" y1="767.19" x2="453.37" y2="769.49" stroke="#6a6a6a" stroke-width="0.8"/>
<g transform="translate(452.12 777.29) rotate(-45)"><text x="0" y="0" text-anchor="end" font-size="10" class="t" textLength="33.02" lengthAdjust="spacingAndGlyphs">Interp.</text></g>
<line x1="477.59" y1="767.19" x2="477.59" y2="769.49" stroke="#6a6a6a" stroke-width="0.8"/>
<g transform="translate(476.34 777.29) rotate(-45)"><text x="0" y="0" text-anchor="end" font-size="10" class="t" textLength="13.59" lengthAdjust="spacingAndGlyphs">Q1</text></g>
<line x1="491.17" y1="767.19" x2="491.17" y2="769.49" stroke="#6a6a6a" stroke-width="0.8"/>
<g transform="translate(489.92 777.29) rotate(-45)"><text x="0" y="0" text-anchor="end" font-size="10" class="t" textLength="13.59" lengthAdjust="spacingAndGlyphs">Q2</text></g>
<line x1="504.75" y1="767.19" x2="504.75" y2="769.49" stroke="#6a6a6a" stroke-width="0.8"/>
<g transform="translate(503.5 777.29) rotate(-45)"><text x="0" y="0" text-anchor="end" font-size="10" class="t" textLength="13.59" lengthAdjust="spacingAndGlyphs">Q3</text></g>
<line x1="518.33" y1="767.19" x2="518.33" y2="769.49" stroke="#6a6a6a" stroke-width="0.8"/>
<g transform="translate(517.08 777.29) rotate(-45)"><text x="0" y="0" text-anchor="end" font-size="10" class="t" textLength="13.59" lengthAdjust="spacingAndGlyphs">Q4</text></g>
<line x1="531.91" y1="767.19" x2="531.91" y2="769.49" stroke="#6a6a6a" stroke-width="0.8"/>
<g transform="translate(530.66 777.29) rotate(-45)"><text x="0" y="0" text-anchor="end" font-size="10" class="t" textLength="13.59" lengthAdjust="spacingAndGlyphs">Q5</text></g>
<line x1="556.39" y1="767.19" x2="556.39" y2="769.49" stroke="#6a6a6a" stroke-width="0.8"/>
<g transform="translate(555.14 777.29) rotate(-45)"><text x="0" y="0" text-anchor="end" font-size="10" class="t" textLength="35.41" lengthAdjust="spacingAndGlyphs">MDCalc</text></g>
<line x1="569.97" y1="767.19" x2="569.97" y2="769.49" stroke="#6a6a6a" stroke-width="0.8"/>
<g transform="translate(568.72 777.29) rotate(-45)"><text x="0" y="0" text-anchor="end" font-size="10" class="t" textLength="32.07" lengthAdjust="spacingAndGlyphs">Others</text></g>
<line x1="587.5" y1="55.59" x2="587.5" y2="768.09" stroke="#505050" stroke-width="0.95"/>
<line x1="587.05" y1="767.64" x2="668.6" y2="767.64" stroke="#505050" stroke-width="0.95"/>
<line x1="587.5" y1="767.64" x2="587.5" y2="770.04" stroke="#6a6a6a" stroke-width="0.8"/>
<text x="587.5" y="778.8" text-anchor="middle" font-size="10" class="t" textLength="6.07" lengthAdjust="spacingAndGlyphs">0</text>
<line x1="645" y1="767.64" x2="645" y2="770.04" stroke="#6a6a6a" stroke-width="0.8"/>
<text x="645" y="778.8" text-anchor="middle" font-size="10" class="t" textLength="18.21" lengthAdjust="spacingAndGlyphs">100</text>
<text x="628.05" y="791" text-anchor="middle" font-size="10" class="t" textLength="35.31" lengthAdjust="spacingAndGlyphs">citation</text>
<path d="M430.5 47.6 V43.3 H463.6 V47.6" fill="none" stroke="#3a3a3a" stroke-width="1.1"/>
<text x="447.05" y="36.9" text-anchor="middle" font-size="7.35" font-weight="bold" fill="#1a1a1a">Correctness</text>
<path d="M471.9 47.6 V43.3 H537.7 V47.6" fill="none" stroke="#3a3a3a" stroke-width="1.1"/>
<text x="504.8" y="36.9" text-anchor="middle" font-size="7.35" font-weight="bold" fill="#1a1a1a">Unit Tests</text>
<path d="M547 47.6 V43.3 H580.2 V47.6" fill="none" stroke="#3a3a3a" stroke-width="1.1"/>
<text x="563.6" y="36.9" text-anchor="middle" font-size="7.35" font-weight="bold" fill="#1a1a1a">Coverage</text>
<text x="349.6" y="40.3" font-size="16.2" font-weight="bold" fill="#111">b</text>
</svg>
</body></html>
